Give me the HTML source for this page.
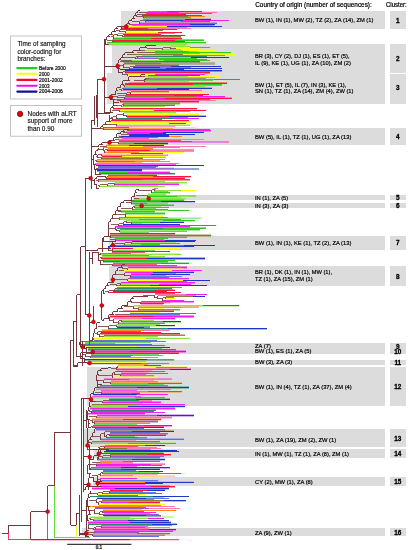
<!DOCTYPE html><html><head><meta charset="utf-8"><style>
html,body{margin:0;padding:0;background:#fff;}
body{width:409px;height:550px;position:relative;overflow:hidden;font-family:"Liberation Sans",sans-serif;color:#1a1a1a;}
.b{position:absolute;background:#dcdcdc;}
.t{position:absolute;white-space:nowrap;transform-origin:0 0;line-height:1;}
svg{position:absolute;left:0;top:0;}
</style></head><body>
<div class="b" style="left:120.6px;top:11.0px;width:264.4px;height:18.0px"></div>
<div class="b" style="left:112.0px;top:44.4px;width:273.0px;height:29.0px"></div>
<div class="b" style="left:106.8px;top:73.4px;width:278.2px;height:31.0px"></div>
<div class="b" style="left:118.0px;top:128.4px;width:267.0px;height:16.8px"></div>
<div class="b" style="left:133.0px;top:195.0px;width:252.0px;height:5.4px"></div>
<div class="b" style="left:133.0px;top:202.6px;width:252.0px;height:5.8px"></div>
<div class="b" style="left:108.6px;top:235.6px;width:276.4px;height:14.4px"></div>
<div class="b" style="left:109.0px;top:265.6px;width:276.0px;height:20.8px"></div>
<div class="b" style="left:88.0px;top:343.0px;width:297.0px;height:11.4px"></div>
<div class="b" style="left:88.0px;top:359.6px;width:297.0px;height:5.4px"></div>
<div class="b" style="left:87.0px;top:367.4px;width:298.0px;height:38.2px"></div>
<div class="b" style="left:82.6px;top:429.0px;width:302.4px;height:18.4px"></div>
<div class="b" style="left:94.0px;top:448.8px;width:291.0px;height:8.8px"></div>
<div class="b" style="left:92.6px;top:477.0px;width:292.4px;height:9.0px"></div>
<div class="b" style="left:82.0px;top:527.6px;width:303.0px;height:8.8px"></div>
<div class="b" style="left:389.6px;top:11.0px;width:16.5px;height:18.0px"></div>
<div class="b" style="left:389.6px;top:44.4px;width:16.5px;height:28.6px"></div>
<div class="b" style="left:389.6px;top:73.8px;width:16.5px;height:30.6px"></div>
<div class="b" style="left:389.6px;top:128.4px;width:16.5px;height:16.8px"></div>
<div class="b" style="left:389.6px;top:195.0px;width:16.5px;height:5.4px"></div>
<div class="b" style="left:389.6px;top:202.6px;width:16.5px;height:5.8px"></div>
<div class="b" style="left:389.6px;top:235.6px;width:16.5px;height:14.4px"></div>
<div class="b" style="left:389.6px;top:265.6px;width:16.5px;height:20.8px"></div>
<div class="b" style="left:389.6px;top:343.0px;width:16.5px;height:11.4px"></div>
<div class="b" style="left:389.6px;top:359.6px;width:16.5px;height:5.4px"></div>
<div class="b" style="left:389.6px;top:367.4px;width:16.5px;height:38.2px"></div>
<div class="b" style="left:389.6px;top:429.0px;width:16.5px;height:18.4px"></div>
<div class="b" style="left:389.6px;top:448.8px;width:16.5px;height:8.8px"></div>
<div class="b" style="left:389.6px;top:477.0px;width:16.5px;height:9.0px"></div>
<div class="b" style="left:389.6px;top:527.6px;width:16.5px;height:8.8px"></div>
<svg width="409" height="550" viewBox="0 0 409 550" style="filter:blur(0.3px)"><g stroke-width="1" shape-rendering="crispEdges"><line x1="144.0" y1="18.5" x2="190.7" y2="18.5" stroke="#2fcc1c" stroke-opacity="0.45"/><line x1="143.0" y1="18.5" x2="211.0" y2="18.5" stroke="#a08888" stroke-opacity="0.45"/><line x1="145.0" y1="22.5" x2="210.4" y2="22.5" stroke="#ff8a10" stroke-opacity="0.45"/><line x1="140.0" y1="22.5" x2="217.0" y2="22.5" stroke="#9a5ad8" stroke-opacity="0.45"/><line x1="131.8" y1="25.5" x2="213.8" y2="25.5" stroke="#f81cf0" stroke-opacity="0.70"/><line x1="121.7" y1="27.5" x2="186.9" y2="27.5" stroke="#2fcc1c" stroke-opacity="0.70"/><line x1="126.0" y1="31.5" x2="155.4" y2="31.5" stroke="#ffff10" stroke-opacity="0.70"/><line x1="123.9" y1="37.5" x2="181.0" y2="37.5" stroke="#8c7a34" stroke-opacity="0.45"/><line x1="113.3" y1="37.5" x2="182.0" y2="37.5" stroke="#2fcc1c" stroke-opacity="0.45"/><line x1="113.3" y1="39.5" x2="182.0" y2="39.5" stroke="#2fcc1c" stroke-opacity="0.45"/><line x1="112.4" y1="39.5" x2="203.6" y2="39.5" stroke="#ff1444" stroke-opacity="0.45"/><line x1="106.8" y1="43.5" x2="206.0" y2="43.5" stroke="#2fcc1c" stroke-opacity="0.45"/><line x1="108.7" y1="43.5" x2="187.0" y2="43.5" stroke="#8fe24a" stroke-opacity="0.45"/><line x1="108.7" y1="45.5" x2="187.0" y2="45.5" stroke="#8fe24a" stroke-opacity="0.45"/><line x1="170.5" y1="45.5" x2="190.0" y2="45.5" stroke="#8fe24a" stroke-opacity="0.45"/><line x1="154.8" y1="53.5" x2="199.7" y2="53.5" stroke="#2fcc1c" stroke-opacity="0.70"/><line x1="123.0" y1="62.5" x2="200.0" y2="62.5" stroke="#2a8a70" stroke-opacity="0.45"/><line x1="123.9" y1="62.5" x2="215.0" y2="62.5" stroke="#8c7a34" stroke-opacity="0.45"/><line x1="123.9" y1="64.5" x2="215.0" y2="64.5" stroke="#8c7a34" stroke-opacity="0.45"/><line x1="134.5" y1="64.5" x2="179.4" y2="64.5" stroke="#8c7a34" stroke-opacity="0.45"/><line x1="125.3" y1="71.5" x2="222.0" y2="71.5" stroke="#2234cc" stroke-opacity="0.45"/><line x1="125.3" y1="71.5" x2="210.0" y2="71.5" stroke="#ff1444" stroke-opacity="0.45"/><line x1="125.3" y1="73.5" x2="210.0" y2="73.5" stroke="#ff1444" stroke-opacity="0.45"/><line x1="127.3" y1="73.5" x2="205.0" y2="73.5" stroke="#ffff10" stroke-opacity="0.45"/><line x1="145.0" y1="80.5" x2="212.8" y2="80.5" stroke="#2fcc1c" stroke-opacity="0.70"/><line x1="144.2" y1="82.5" x2="225.0" y2="82.5" stroke="#8fe24a" stroke-opacity="0.45"/><line x1="128.9" y1="82.5" x2="227.0" y2="82.5" stroke="#ff1444" stroke-opacity="0.45"/><line x1="124.6" y1="85.5" x2="222.0" y2="85.5" stroke="#ff1444" stroke-opacity="0.45"/><line x1="124.6" y1="85.5" x2="205.0" y2="85.5" stroke="#8fe24a" stroke-opacity="0.45"/><line x1="124.6" y1="87.5" x2="205.0" y2="87.5" stroke="#8fe24a" stroke-opacity="0.45"/><line x1="123.1" y1="87.5" x2="212.0" y2="87.5" stroke="#5a7ee6" stroke-opacity="0.45"/><line x1="130.6" y1="92.5" x2="169.3" y2="92.5" stroke="#8c7a34" stroke-opacity="0.45"/><line x1="130.6" y1="92.5" x2="203.6" y2="92.5" stroke="#ffff10" stroke-opacity="0.45"/><line x1="124.8" y1="97.5" x2="225.0" y2="97.5" stroke="#8c7a34" stroke-opacity="0.45"/><line x1="124.8" y1="97.5" x2="232.0" y2="97.5" stroke="#f81cf0" stroke-opacity="0.45"/><line x1="120.1" y1="102.5" x2="198.6" y2="102.5" stroke="#ff1444" stroke-opacity="0.45"/><line x1="123.4" y1="102.5" x2="180.0" y2="102.5" stroke="#2fcc1c" stroke-opacity="0.45"/><line x1="123.4" y1="104.5" x2="180.0" y2="104.5" stroke="#2fcc1c" stroke-opacity="0.45"/><line x1="123.4" y1="104.5" x2="175.0" y2="104.5" stroke="#8c7a34" stroke-opacity="0.45"/><line x1="121.5" y1="107.5" x2="153.9" y2="107.5" stroke="#ffff10" stroke-opacity="0.70"/><line x1="112.5" y1="109.5" x2="197.0" y2="109.5" stroke="#ff1444" stroke-opacity="0.45"/><line x1="119.1" y1="109.5" x2="206.0" y2="109.5" stroke="#ffff10" stroke-opacity="0.45"/><line x1="124.0" y1="113.5" x2="175.5" y2="113.5" stroke="#8fe24a" stroke-opacity="0.45"/><line x1="126.9" y1="113.5" x2="198.6" y2="113.5" stroke="#ffff10" stroke-opacity="0.45"/><line x1="126.9" y1="115.5" x2="198.6" y2="115.5" stroke="#ffff10" stroke-opacity="0.45"/><line x1="126.9" y1="115.5" x2="206.0" y2="115.5" stroke="#ff1444" stroke-opacity="0.45"/><line x1="126.9" y1="117.5" x2="187.8" y2="117.5" stroke="#ff1444" stroke-opacity="0.70"/><line x1="110.5" y1="121.5" x2="188.6" y2="121.5" stroke="#ff1444" stroke-opacity="0.45"/><line x1="108.6" y1="121.5" x2="191.0" y2="121.5" stroke="#ffff10" stroke-opacity="0.45"/><line x1="116.4" y1="124.5" x2="186.0" y2="124.5" stroke="#ffff10" stroke-opacity="0.45"/><line x1="116.4" y1="124.5" x2="190.0" y2="124.5" stroke="#8fe24a" stroke-opacity="0.45"/><line x1="116.4" y1="126.5" x2="175.3" y2="126.5" stroke="#ff78b0" stroke-opacity="0.70"/><line x1="103.3" y1="128.5" x2="173.1" y2="128.5" stroke="#ff8a10" stroke-opacity="0.70"/><line x1="130.1" y1="131.5" x2="211.0" y2="131.5" stroke="#f81cf0" stroke-opacity="0.45"/><line x1="126.2" y1="131.5" x2="203.6" y2="131.5" stroke="#f81cf0" stroke-opacity="0.45"/><line x1="122.2" y1="138.5" x2="149.4" y2="138.5" stroke="#f81cf0" stroke-opacity="0.70"/><line x1="118.5" y1="140.5" x2="181.1" y2="140.5" stroke="#ff1444" stroke-opacity="0.70"/><line x1="118.5" y1="142.5" x2="228.6" y2="142.5" stroke="#f81cf0" stroke-opacity="0.45"/><line x1="118.5" y1="142.5" x2="167.5" y2="142.5" stroke="#2fcc1c" stroke-opacity="0.45"/><line x1="118.5" y1="144.5" x2="167.5" y2="144.5" stroke="#2fcc1c" stroke-opacity="0.45"/><line x1="106.4" y1="144.5" x2="163.7" y2="144.5" stroke="#ff8a10" stroke-opacity="0.45"/><line x1="107.5" y1="149.5" x2="152.8" y2="149.5" stroke="#ff8a10" stroke-opacity="0.45"/><line x1="107.5" y1="149.5" x2="193.6" y2="149.5" stroke="#ff1444" stroke-opacity="0.45"/><line x1="107.5" y1="151.5" x2="193.6" y2="151.5" stroke="#ff1444" stroke-opacity="0.45"/><line x1="104.7" y1="151.5" x2="183.7" y2="151.5" stroke="#ff8a10" stroke-opacity="0.45"/><line x1="101.9" y1="154.5" x2="162.5" y2="154.5" stroke="#ffff10" stroke-opacity="0.45"/><line x1="101.9" y1="154.5" x2="167.5" y2="154.5" stroke="#ff78b0" stroke-opacity="0.45"/><line x1="101.6" y1="157.5" x2="166.2" y2="157.5" stroke="#ff1444" stroke-opacity="0.45"/><line x1="101.6" y1="157.5" x2="142.8" y2="157.5" stroke="#8c7a34" stroke-opacity="0.45"/><line x1="97.0" y1="160.5" x2="160.1" y2="160.5" stroke="#ff8a10" stroke-opacity="0.70"/><line x1="97.0" y1="162.5" x2="141.8" y2="162.5" stroke="#ff8a10" stroke-opacity="0.70"/><line x1="95.5" y1="164.5" x2="175.5" y2="164.5" stroke="#f81cf0" stroke-opacity="0.70"/><line x1="97.7" y1="166.5" x2="157.9" y2="166.5" stroke="#2234cc" stroke-opacity="0.70"/><line x1="97.7" y1="168.5" x2="173.7" y2="168.5" stroke="#f81cf0" stroke-opacity="0.45"/><line x1="97.7" y1="168.5" x2="198.6" y2="168.5" stroke="#2234cc" stroke-opacity="0.45"/><line x1="96.8" y1="171.5" x2="141.5" y2="171.5" stroke="#2234cc" stroke-opacity="0.45"/><line x1="98.5" y1="171.5" x2="170.0" y2="171.5" stroke="#2fcc1c" stroke-opacity="0.45"/><line x1="99.3" y1="174.5" x2="175.0" y2="174.5" stroke="#2a8a70" stroke-opacity="0.45"/><line x1="107.7" y1="174.5" x2="157.3" y2="174.5" stroke="#8c7a34" stroke-opacity="0.45"/><line x1="107.7" y1="177.5" x2="191.0" y2="177.5" stroke="#ff8a10" stroke-opacity="0.45"/><line x1="106.0" y1="177.5" x2="185.0" y2="177.5" stroke="#ff1444" stroke-opacity="0.45"/><line x1="98.3" y1="180.5" x2="190.0" y2="180.5" stroke="#ff1444" stroke-opacity="0.45"/><line x1="98.3" y1="180.5" x2="164.9" y2="180.5" stroke="#8fe24a" stroke-opacity="0.45"/><line x1="114.9" y1="183.5" x2="187.4" y2="183.5" stroke="#8fe24a" stroke-opacity="0.45"/><line x1="114.9" y1="183.5" x2="178.7" y2="183.5" stroke="#f81cf0" stroke-opacity="0.45"/><line x1="154.2" y1="187.5" x2="158.1" y2="187.5" stroke="#ffff10" stroke-opacity="0.70"/><line x1="154.2" y1="189.5" x2="156.3" y2="189.5" stroke="#2fcc1c" stroke-opacity="0.70"/><line x1="154.2" y1="191.5" x2="168.4" y2="191.5" stroke="#2fcc1c" stroke-opacity="0.70"/><line x1="151.7" y1="193.5" x2="170.0" y2="193.5" stroke="#2fcc1c" stroke-opacity="0.45"/><line x1="147.6" y1="193.5" x2="166.0" y2="193.5" stroke="#8fe24a" stroke-opacity="0.45"/><line x1="147.6" y1="195.5" x2="166.0" y2="195.5" stroke="#8fe24a" stroke-opacity="0.45"/><line x1="147.6" y1="195.5" x2="196.0" y2="195.5" stroke="#2fcc1c" stroke-opacity="0.45"/><line x1="147.6" y1="197.5" x2="181.4" y2="197.5" stroke="#8fe24a" stroke-opacity="0.70"/><line x1="138.6" y1="199.5" x2="186.0" y2="199.5" stroke="#8fe24a" stroke-opacity="0.45"/><line x1="133.8" y1="199.5" x2="183.7" y2="199.5" stroke="#2fcc1c" stroke-opacity="0.45"/><line x1="131.4" y1="202.5" x2="195.0" y2="202.5" stroke="#9a5ad8" stroke-opacity="0.45"/><line x1="131.4" y1="202.5" x2="167.5" y2="202.5" stroke="#2fcc1c" stroke-opacity="0.45"/><line x1="131.4" y1="204.5" x2="167.5" y2="204.5" stroke="#2fcc1c" stroke-opacity="0.45"/><line x1="134.6" y1="204.5" x2="173.7" y2="204.5" stroke="#2fcc1c" stroke-opacity="0.45"/><line x1="134.6" y1="206.5" x2="160.9" y2="206.5" stroke="#8fe24a" stroke-opacity="0.70"/><line x1="134.6" y1="208.5" x2="155.6" y2="208.5" stroke="#2fcc1c" stroke-opacity="0.70"/><line x1="121.0" y1="212.5" x2="154.6" y2="212.5" stroke="#2fcc1c" stroke-opacity="0.45"/><line x1="125.4" y1="212.5" x2="165.0" y2="212.5" stroke="#2fcc1c" stroke-opacity="0.45"/><line x1="125.4" y1="214.5" x2="165.0" y2="214.5" stroke="#2fcc1c" stroke-opacity="0.45"/><line x1="125.4" y1="215.5" x2="162.5" y2="215.5" stroke="#ffff10" stroke-opacity="0.45"/><line x1="119.2" y1="218.5" x2="201.0" y2="218.5" stroke="#2fcc1c" stroke-opacity="0.45"/><line x1="119.2" y1="218.5" x2="180.5" y2="218.5" stroke="#8fe24a" stroke-opacity="0.45"/><line x1="126.3" y1="221.5" x2="195.0" y2="221.5" stroke="#8fe24a" stroke-opacity="0.45"/><line x1="131.4" y1="221.5" x2="183.7" y2="221.5" stroke="#2fcc1c" stroke-opacity="0.45"/><line x1="115.3" y1="227.5" x2="189.7" y2="227.5" stroke="#f81cf0" stroke-opacity="0.45"/><line x1="117.0" y1="227.5" x2="206.0" y2="227.5" stroke="#2a8a70" stroke-opacity="0.45"/><line x1="119.9" y1="230.5" x2="200.0" y2="230.5" stroke="#2fcc1c" stroke-opacity="0.45"/><line x1="119.9" y1="230.5" x2="187.4" y2="230.5" stroke="#8fe24a" stroke-opacity="0.45"/><line x1="119.9" y1="232.5" x2="149.0" y2="232.5" stroke="#2fcc1c" stroke-opacity="0.70"/><line x1="109.5" y1="234.5" x2="175.0" y2="234.5" stroke="#ff1444" stroke-opacity="0.45"/><line x1="110.4" y1="234.5" x2="211.0" y2="234.5" stroke="#8c7a34" stroke-opacity="0.45"/><line x1="110.4" y1="236.5" x2="211.0" y2="236.5" stroke="#8c7a34" stroke-opacity="0.45"/><line x1="110.4" y1="236.5" x2="187.4" y2="236.5" stroke="#a08888" stroke-opacity="0.45"/><line x1="115.3" y1="239.5" x2="163.6" y2="239.5" stroke="#f81cf0" stroke-opacity="0.70"/><line x1="131.8" y1="242.5" x2="176.1" y2="242.5" stroke="#8fe24a" stroke-opacity="0.70"/><line x1="112.2" y1="247.5" x2="159.0" y2="247.5" stroke="#ffff10" stroke-opacity="0.70"/><line x1="112.2" y1="249.5" x2="168.8" y2="249.5" stroke="#ffff10" stroke-opacity="0.70"/><line x1="112.2" y1="250.5" x2="155.2" y2="250.5" stroke="#2fcc1c" stroke-opacity="0.70"/><line x1="112.2" y1="252.5" x2="144.8" y2="252.5" stroke="#ff1444" stroke-opacity="0.70"/><line x1="101.9" y1="255.5" x2="148.5" y2="255.5" stroke="#ff1444" stroke-opacity="0.70"/><line x1="101.9" y1="257.5" x2="165.0" y2="257.5" stroke="#8fe24a" stroke-opacity="0.45"/><line x1="101.9" y1="257.5" x2="204.9" y2="257.5" stroke="#ff1444" stroke-opacity="0.45"/><line x1="101.9" y1="259.5" x2="204.9" y2="259.5" stroke="#ff1444" stroke-opacity="0.45"/><line x1="103.1" y1="259.5" x2="175.0" y2="259.5" stroke="#2fcc1c" stroke-opacity="0.45"/><line x1="103.1" y1="262.5" x2="167.5" y2="262.5" stroke="#2a8a70" stroke-opacity="0.45"/><line x1="112.8" y1="262.5" x2="188.7" y2="262.5" stroke="#2fcc1c" stroke-opacity="0.45"/><line x1="112.8" y1="264.5" x2="157.3" y2="264.5" stroke="#ff1444" stroke-opacity="0.70"/><line x1="112.8" y1="266.5" x2="177.4" y2="266.5" stroke="#9a5ad8" stroke-opacity="0.45"/><line x1="127.6" y1="266.5" x2="187.4" y2="266.5" stroke="#f81cf0" stroke-opacity="0.45"/><line x1="127.6" y1="268.5" x2="187.4" y2="268.5" stroke="#f81cf0" stroke-opacity="0.45"/><line x1="127.6" y1="268.5" x2="184.0" y2="268.5" stroke="#ffff10" stroke-opacity="0.45"/><line x1="123.2" y1="271.5" x2="202.4" y2="271.5" stroke="#ffff10" stroke-opacity="0.45"/><line x1="124.9" y1="271.5" x2="193.6" y2="271.5" stroke="#f81cf0" stroke-opacity="0.45"/><line x1="130.7" y1="273.5" x2="175.7" y2="273.5" stroke="#f81cf0" stroke-opacity="0.70"/><line x1="130.7" y1="275.5" x2="166.1" y2="275.5" stroke="#f81cf0" stroke-opacity="0.70"/><line x1="129.7" y1="279.5" x2="188.7" y2="279.5" stroke="#9a5ad8" stroke-opacity="0.45"/><line x1="127.8" y1="279.5" x2="209.9" y2="279.5" stroke="#ffff10" stroke-opacity="0.45"/><line x1="127.8" y1="281.5" x2="186.5" y2="281.5" stroke="#ff1444" stroke-opacity="0.70"/><line x1="120.8" y1="283.5" x2="195.0" y2="283.5" stroke="#f81cf0" stroke-opacity="0.45"/><line x1="120.8" y1="283.5" x2="190.6" y2="283.5" stroke="#8fe24a" stroke-opacity="0.45"/><line x1="117.0" y1="286.5" x2="174.0" y2="286.5" stroke="#ffff10" stroke-opacity="0.70"/><line x1="117.0" y1="289.5" x2="172.4" y2="289.5" stroke="#2a8a70" stroke-opacity="0.45"/><line x1="114.4" y1="289.5" x2="175.0" y2="289.5" stroke="#2a8a70" stroke-opacity="0.45"/><line x1="154.8" y1="293.5" x2="175.4" y2="293.5" stroke="#2234cc" stroke-opacity="0.70"/><line x1="166.0" y1="297.5" x2="174.0" y2="297.5" stroke="#ff1444" stroke-opacity="0.70"/><line x1="166.0" y1="299.5" x2="171.7" y2="299.5" stroke="#ffff10" stroke-opacity="0.70"/><line x1="140.9" y1="302.5" x2="193.6" y2="302.5" stroke="#f81cf0" stroke-opacity="0.45"/><line x1="140.9" y1="302.5" x2="170.0" y2="302.5" stroke="#ff1444" stroke-opacity="0.45"/><line x1="140.9" y1="304.5" x2="162.6" y2="304.5" stroke="#ff78b0" stroke-opacity="0.70"/><line x1="134.0" y1="306.5" x2="238.5" y2="306.5" stroke="#8fe24a" stroke-opacity="0.45"/><line x1="138.1" y1="306.5" x2="198.6" y2="306.5" stroke="#ff8a10" stroke-opacity="0.45"/><line x1="138.1" y1="308.5" x2="163.7" y2="308.5" stroke="#ffff10" stroke-opacity="0.70"/><line x1="138.1" y1="310.5" x2="180.0" y2="310.5" stroke="#2fcc1c" stroke-opacity="0.45"/><line x1="122.7" y1="310.5" x2="173.7" y2="310.5" stroke="#ff1444" stroke-opacity="0.45"/><line x1="129.6" y1="312.5" x2="159.4" y2="312.5" stroke="#ffff10" stroke-opacity="0.70"/><line x1="129.6" y1="315.5" x2="180.0" y2="315.5" stroke="#5a7ee6" stroke-opacity="0.45"/><line x1="109.7" y1="315.5" x2="193.6" y2="315.5" stroke="#ff1444" stroke-opacity="0.45"/><line x1="109.7" y1="317.5" x2="193.6" y2="317.5" stroke="#ff1444" stroke-opacity="0.45"/><line x1="114.0" y1="317.5" x2="175.0" y2="317.5" stroke="#ff78b0" stroke-opacity="0.45"/><line x1="114.0" y1="319.5" x2="175.0" y2="319.5" stroke="#ff78b0" stroke-opacity="0.45"/><line x1="121.5" y1="319.5" x2="154.4" y2="319.5" stroke="#8fe24a" stroke-opacity="0.45"/><line x1="121.5" y1="322.5" x2="181.2" y2="322.5" stroke="#2fcc1c" stroke-opacity="0.45"/><line x1="118.8" y1="322.5" x2="165.0" y2="322.5" stroke="#a08888" stroke-opacity="0.45"/><line x1="117.9" y1="326.5" x2="175.0" y2="326.5" stroke="#8fe24a" stroke-opacity="0.45"/><line x1="117.9" y1="326.5" x2="150.2" y2="326.5" stroke="#2234cc" stroke-opacity="0.45"/><line x1="108.3" y1="329.5" x2="267.0" y2="329.5" stroke="#2a8a70" stroke-opacity="0.45"/><line x1="101.6" y1="329.5" x2="170.0" y2="329.5" stroke="#ff8a10" stroke-opacity="0.45"/><line x1="101.6" y1="331.5" x2="140.6" y2="331.5" stroke="#2234cc" stroke-opacity="0.70"/><line x1="99.5" y1="334.5" x2="180.0" y2="334.5" stroke="#ff1444" stroke-opacity="0.45"/><line x1="103.8" y1="334.5" x2="185.0" y2="334.5" stroke="#8c7a34" stroke-opacity="0.45"/><line x1="103.8" y1="337.5" x2="157.8" y2="337.5" stroke="#8fe24a" stroke-opacity="0.45"/><line x1="93.9" y1="337.5" x2="190.0" y2="337.5" stroke="#ffff10" stroke-opacity="0.45"/><line x1="93.9" y1="340.5" x2="157.1" y2="340.5" stroke="#2234cc" stroke-opacity="0.70"/><line x1="84.5" y1="342.5" x2="150.7" y2="342.5" stroke="#2fcc1c" stroke-opacity="0.70"/><line x1="84.5" y1="344.5" x2="152.1" y2="344.5" stroke="#2234cc" stroke-opacity="0.70"/><line x1="85.6" y1="346.5" x2="138.1" y2="346.5" stroke="#ffff10" stroke-opacity="0.70"/><line x1="88.2" y1="348.5" x2="162.4" y2="348.5" stroke="#2fcc1c" stroke-opacity="0.70"/><line x1="88.2" y1="350.5" x2="176.2" y2="350.5" stroke="#2a8a70" stroke-opacity="0.45"/><line x1="91.5" y1="350.5" x2="186.2" y2="350.5" stroke="#f81cf0" stroke-opacity="0.45"/><line x1="91.5" y1="352.5" x2="186.2" y2="352.5" stroke="#f81cf0" stroke-opacity="0.45"/><line x1="85.8" y1="352.5" x2="178.7" y2="352.5" stroke="#ff1444" stroke-opacity="0.45"/><line x1="90.7" y1="354.5" x2="158.8" y2="354.5" stroke="#2fcc1c" stroke-opacity="0.70"/><line x1="90.7" y1="356.5" x2="131.3" y2="356.5" stroke="#2234cc" stroke-opacity="0.70"/><line x1="90.7" y1="358.5" x2="142.2" y2="358.5" stroke="#ffff10" stroke-opacity="0.70"/><line x1="85.3" y1="360.5" x2="173.7" y2="360.5" stroke="#2234cc" stroke-opacity="0.45"/><line x1="88.0" y1="360.5" x2="175.0" y2="360.5" stroke="#8fe24a" stroke-opacity="0.45"/><line x1="88.0" y1="362.5" x2="147.1" y2="362.5" stroke="#ffff10" stroke-opacity="0.70"/><line x1="117.9" y1="364.5" x2="147.9" y2="364.5" stroke="#ff8a10" stroke-opacity="0.70"/><line x1="117.9" y1="366.5" x2="161.2" y2="366.5" stroke="#8fe24a" stroke-opacity="0.45"/><line x1="117.9" y1="366.5" x2="187.4" y2="366.5" stroke="#ffff10" stroke-opacity="0.45"/><line x1="117.9" y1="368.5" x2="187.4" y2="368.5" stroke="#ffff10" stroke-opacity="0.45"/><line x1="116.6" y1="368.5" x2="191.0" y2="368.5" stroke="#f81cf0" stroke-opacity="0.45"/><line x1="116.6" y1="370.5" x2="152.3" y2="370.5" stroke="#ff78b0" stroke-opacity="0.70"/><line x1="120.7" y1="372.5" x2="148.8" y2="372.5" stroke="#ff78b0" stroke-opacity="0.70"/><line x1="120.7" y1="374.5" x2="145.8" y2="374.5" stroke="#f81cf0" stroke-opacity="0.70"/><line x1="120.7" y1="376.5" x2="153.7" y2="376.5" stroke="#a08888" stroke-opacity="0.45"/><line x1="112.4" y1="376.5" x2="157.5" y2="376.5" stroke="#ffff10" stroke-opacity="0.45"/><line x1="112.4" y1="378.5" x2="157.5" y2="378.5" stroke="#ffff10" stroke-opacity="0.45"/><line x1="103.5" y1="378.5" x2="172.4" y2="378.5" stroke="#f81cf0" stroke-opacity="0.45"/><line x1="110.6" y1="380.5" x2="154.0" y2="380.5" stroke="#ff78b0" stroke-opacity="0.70"/><line x1="110.6" y1="382.5" x2="157.5" y2="382.5" stroke="#ff8a10" stroke-opacity="0.45"/><line x1="110.6" y1="382.5" x2="182.4" y2="382.5" stroke="#ff8a10" stroke-opacity="0.45"/><line x1="110.6" y1="384.5" x2="164.2" y2="384.5" stroke="#2fcc1c" stroke-opacity="0.70"/><line x1="99.8" y1="386.5" x2="167.5" y2="386.5" stroke="#f81cf0" stroke-opacity="0.45"/><line x1="97.8" y1="386.5" x2="188.7" y2="386.5" stroke="#2a8a70" stroke-opacity="0.45"/><line x1="97.8" y1="388.5" x2="188.7" y2="388.5" stroke="#2a8a70" stroke-opacity="0.45"/><line x1="95.8" y1="388.5" x2="171.2" y2="388.5" stroke="#ff78b0" stroke-opacity="0.45"/><line x1="101.1" y1="390.5" x2="136.8" y2="390.5" stroke="#f81cf0" stroke-opacity="0.70"/><line x1="101.1" y1="392.5" x2="182.4" y2="392.5" stroke="#ff8a10" stroke-opacity="0.45"/><line x1="101.1" y1="392.5" x2="139.8" y2="392.5" stroke="#f81cf0" stroke-opacity="0.45"/><line x1="93.3" y1="395.5" x2="136.2" y2="395.5" stroke="#ff78b0" stroke-opacity="0.70"/><line x1="91.9" y1="396.5" x2="140.6" y2="396.5" stroke="#f81cf0" stroke-opacity="0.70"/><line x1="91.9" y1="398.5" x2="165.0" y2="398.5" stroke="#8fe24a" stroke-opacity="0.45"/><line x1="108.8" y1="398.5" x2="170.0" y2="398.5" stroke="#2a8a70" stroke-opacity="0.45"/><line x1="108.8" y1="401.5" x2="152.3" y2="401.5" stroke="#2a8a70" stroke-opacity="0.45"/><line x1="102.5" y1="401.5" x2="161.2" y2="401.5" stroke="#f81cf0" stroke-opacity="0.45"/><line x1="102.5" y1="403.5" x2="142.6" y2="403.5" stroke="#ff78b0" stroke-opacity="0.70"/><line x1="92.2" y1="405.5" x2="185.0" y2="405.5" stroke="#8c7a34" stroke-opacity="0.45"/><line x1="90.2" y1="405.5" x2="185.0" y2="405.5" stroke="#8fe24a" stroke-opacity="0.45"/><line x1="90.2" y1="407.5" x2="185.0" y2="407.5" stroke="#8fe24a" stroke-opacity="0.45"/><line x1="89.7" y1="407.5" x2="175.0" y2="407.5" stroke="#f81cf0" stroke-opacity="0.45"/><line x1="89.7" y1="409.5" x2="175.0" y2="409.5" stroke="#f81cf0" stroke-opacity="0.45"/><line x1="91.9" y1="409.5" x2="156.2" y2="409.5" stroke="#2a8a70" stroke-opacity="0.45"/><line x1="91.9" y1="411.5" x2="153.5" y2="411.5" stroke="#2234cc" stroke-opacity="0.70"/><line x1="88.4" y1="414.5" x2="145.1" y2="414.5" stroke="#f81cf0" stroke-opacity="0.45"/><line x1="96.8" y1="414.5" x2="193.6" y2="414.5" stroke="#9a5ad8" stroke-opacity="0.45"/><line x1="96.8" y1="416.5" x2="193.6" y2="416.5" stroke="#9a5ad8" stroke-opacity="0.45"/><line x1="96.8" y1="416.5" x2="172.4" y2="416.5" stroke="#ff78b0" stroke-opacity="0.45"/><line x1="96.8" y1="418.5" x2="172.4" y2="418.5" stroke="#ff78b0" stroke-opacity="0.45"/><line x1="92.2" y1="418.5" x2="161.2" y2="418.5" stroke="#ff8a10" stroke-opacity="0.45"/><line x1="92.2" y1="420.5" x2="161.2" y2="420.5" stroke="#ff8a10" stroke-opacity="0.45"/><line x1="94.3" y1="420.5" x2="157.5" y2="420.5" stroke="#9a5ad8" stroke-opacity="0.45"/><line x1="94.3" y1="422.5" x2="157.5" y2="422.5" stroke="#9a5ad8" stroke-opacity="0.45"/><line x1="94.3" y1="422.5" x2="150.4" y2="422.5" stroke="#ff8a10" stroke-opacity="0.45"/><line x1="94.3" y1="424.5" x2="136.7" y2="424.5" stroke="#2fcc1c" stroke-opacity="0.70"/><line x1="92.5" y1="426.5" x2="172.4" y2="426.5" stroke="#f81cf0" stroke-opacity="0.45"/><line x1="92.5" y1="426.5" x2="163.7" y2="426.5" stroke="#ff1444" stroke-opacity="0.45"/><line x1="95.5" y1="428.5" x2="143.7" y2="428.5" stroke="#2234cc" stroke-opacity="0.70"/><line x1="95.5" y1="430.5" x2="165.0" y2="430.5" stroke="#9a5ad8" stroke-opacity="0.45"/><line x1="104.9" y1="430.5" x2="173.7" y2="430.5" stroke="#8c7a34" stroke-opacity="0.45"/><line x1="109.5" y1="432.5" x2="159.9" y2="432.5" stroke="#2234cc" stroke-opacity="0.70"/><line x1="109.5" y1="434.5" x2="167.5" y2="434.5" stroke="#5a7ee6" stroke-opacity="0.45"/><line x1="109.5" y1="434.5" x2="166.2" y2="434.5" stroke="#ff1444" stroke-opacity="0.45"/><line x1="109.5" y1="436.5" x2="134.8" y2="436.5" stroke="#2fcc1c" stroke-opacity="0.70"/><line x1="106.9" y1="438.5" x2="146.6" y2="438.5" stroke="#2a8a70" stroke-opacity="0.45"/><line x1="100.6" y1="438.5" x2="183.7" y2="438.5" stroke="#5a7ee6" stroke-opacity="0.45"/><line x1="100.6" y1="440.5" x2="136.4" y2="440.5" stroke="#ff78b0" stroke-opacity="0.70"/><line x1="91.7" y1="442.5" x2="160.0" y2="442.5" stroke="#9a5ad8" stroke-opacity="0.45"/><line x1="91.7" y1="442.5" x2="176.2" y2="442.5" stroke="#8fe24a" stroke-opacity="0.45"/><line x1="104.8" y1="444.5" x2="154.2" y2="444.5" stroke="#ffff10" stroke-opacity="0.70"/><line x1="104.8" y1="446.5" x2="138.0" y2="446.5" stroke="#ff1444" stroke-opacity="0.70"/><line x1="106.0" y1="449.5" x2="150.7" y2="449.5" stroke="#f81cf0" stroke-opacity="0.70"/><line x1="103.6" y1="452.5" x2="163.1" y2="452.5" stroke="#2fcc1c" stroke-opacity="0.70"/><line x1="110.1" y1="455.5" x2="171.2" y2="455.5" stroke="#8c7a34" stroke-opacity="0.45"/><line x1="110.1" y1="455.5" x2="163.7" y2="455.5" stroke="#9a5ad8" stroke-opacity="0.45"/><line x1="102.1" y1="458.5" x2="160.0" y2="458.5" stroke="#2fcc1c" stroke-opacity="0.45"/><line x1="97.0" y1="458.5" x2="165.0" y2="458.5" stroke="#5a7ee6" stroke-opacity="0.45"/><line x1="97.0" y1="460.5" x2="165.0" y2="460.5" stroke="#5a7ee6" stroke-opacity="0.45"/><line x1="99.5" y1="460.5" x2="160.0" y2="460.5" stroke="#ff78b0" stroke-opacity="0.45"/><line x1="99.5" y1="463.5" x2="132.6" y2="463.5" stroke="#ff8a10" stroke-opacity="0.45"/><line x1="96.2" y1="463.5" x2="165.0" y2="463.5" stroke="#f81cf0" stroke-opacity="0.45"/><line x1="96.2" y1="466.5" x2="137.4" y2="466.5" stroke="#f81cf0" stroke-opacity="0.70"/><line x1="90.7" y1="468.5" x2="170.0" y2="468.5" stroke="#9a5ad8" stroke-opacity="0.45"/><line x1="90.7" y1="468.5" x2="160.0" y2="468.5" stroke="#2a8a70" stroke-opacity="0.45"/><line x1="103.0" y1="470.5" x2="135.5" y2="470.5" stroke="#2234cc" stroke-opacity="0.70"/><line x1="103.0" y1="472.5" x2="158.7" y2="472.5" stroke="#2fcc1c" stroke-opacity="0.70"/><line x1="103.0" y1="474.5" x2="158.4" y2="474.5" stroke="#ff78b0" stroke-opacity="0.70"/><line x1="100.3" y1="476.5" x2="175.0" y2="476.5" stroke="#ff78b0" stroke-opacity="0.45"/><line x1="97.5" y1="476.5" x2="165.0" y2="476.5" stroke="#ffff10" stroke-opacity="0.45"/><line x1="100.3" y1="479.5" x2="134.1" y2="479.5" stroke="#ffff10" stroke-opacity="0.70"/><line x1="100.3" y1="481.5" x2="157.5" y2="481.5" stroke="#5a7ee6" stroke-opacity="0.45"/><line x1="99.2" y1="481.5" x2="193.6" y2="481.5" stroke="#ff8a10" stroke-opacity="0.45"/><line x1="100.2" y1="484.5" x2="145.0" y2="484.5" stroke="#f81cf0" stroke-opacity="0.70"/><line x1="101.2" y1="487.5" x2="175.0" y2="487.5" stroke="#f81cf0" stroke-opacity="0.45"/><line x1="92.4" y1="487.5" x2="168.7" y2="487.5" stroke="#f81cf0" stroke-opacity="0.45"/><line x1="92.4" y1="489.5" x2="168.7" y2="489.5" stroke="#f81cf0" stroke-opacity="0.45"/><line x1="109.9" y1="489.5" x2="165.0" y2="489.5" stroke="#ff1444" stroke-opacity="0.45"/><line x1="109.9" y1="491.5" x2="142.5" y2="491.5" stroke="#2234cc" stroke-opacity="0.70"/><line x1="97.9" y1="495.5" x2="137.5" y2="495.5" stroke="#2234cc" stroke-opacity="0.70"/><line x1="96.7" y1="497.5" x2="163.9" y2="497.5" stroke="#ff78b0" stroke-opacity="0.70"/><line x1="101.6" y1="499.5" x2="153.8" y2="499.5" stroke="#ff1444" stroke-opacity="0.70"/><line x1="101.6" y1="501.5" x2="186.2" y2="501.5" stroke="#8c7a34" stroke-opacity="0.45"/><line x1="101.6" y1="501.5" x2="160.0" y2="501.5" stroke="#f81cf0" stroke-opacity="0.45"/><line x1="101.6" y1="503.5" x2="160.0" y2="503.5" stroke="#f81cf0" stroke-opacity="0.45"/><line x1="98.6" y1="503.5" x2="165.0" y2="503.5" stroke="#ffff10" stroke-opacity="0.45"/><line x1="98.6" y1="505.5" x2="161.2" y2="505.5" stroke="#f81cf0" stroke-opacity="0.70"/><line x1="95.0" y1="507.5" x2="145.9" y2="507.5" stroke="#2234cc" stroke-opacity="0.70"/><line x1="102.7" y1="509.5" x2="142.4" y2="509.5" stroke="#ff78b0" stroke-opacity="0.70"/><line x1="102.7" y1="511.5" x2="144.4" y2="511.5" stroke="#2234cc" stroke-opacity="0.70"/><line x1="103.9" y1="513.5" x2="149.9" y2="513.5" stroke="#f81cf0" stroke-opacity="0.70"/><line x1="103.9" y1="516.5" x2="161.2" y2="516.5" stroke="#2234cc" stroke-opacity="0.45"/><line x1="90.1" y1="516.5" x2="173.7" y2="516.5" stroke="#8fe24a" stroke-opacity="0.45"/><line x1="93.9" y1="519.5" x2="133.9" y2="519.5" stroke="#ff78b0" stroke-opacity="0.70"/><line x1="93.9" y1="521.5" x2="168.7" y2="521.5" stroke="#9a5ad8" stroke-opacity="0.45"/><line x1="87.5" y1="521.5" x2="171.2" y2="521.5" stroke="#f81cf0" stroke-opacity="0.45"/><line x1="87.5" y1="523.5" x2="171.2" y2="523.5" stroke="#f81cf0" stroke-opacity="0.45"/><line x1="88.4" y1="523.5" x2="177.4" y2="523.5" stroke="#2a8a70" stroke-opacity="0.45"/><line x1="101.4" y1="526.5" x2="147.8" y2="526.5" stroke="#f81cf0" stroke-opacity="0.70"/><line x1="93.7" y1="530.5" x2="176.2" y2="530.5" stroke="#f81cf0" stroke-opacity="0.45"/><line x1="94.2" y1="530.5" x2="173.0" y2="530.5" stroke="#f81cf0" stroke-opacity="0.45"/><line x1="92.7" y1="534.5" x2="170.0" y2="534.5" stroke="#ff78b0" stroke-opacity="0.45"/><line x1="92.7" y1="534.5" x2="165.0" y2="534.5" stroke="#a08888" stroke-opacity="0.45"/><line x1="92.7" y1="536.5" x2="158.7" y2="536.5" stroke="#2234cc" stroke-opacity="0.70"/></g><g stroke-width="1" shape-rendering="crispEdges"><line x1="147.7" y1="11.5" x2="166.9" y2="11.5" stroke="#2fcc1c"/><line x1="166.9" y1="11.5" x2="202.0" y2="11.5" stroke="#ff1444"/><line x1="147.7" y1="12.5" x2="178.9" y2="12.5" stroke="#f81cf0"/><line x1="178.9" y1="12.5" x2="217.0" y2="12.5" stroke="#ff78b0"/><line x1="145.8" y1="13.5" x2="212.0" y2="13.5" stroke="#f81cf0"/><line x1="145.8" y1="14.5" x2="186.2" y2="14.5" stroke="#ff1444"/><line x1="142.3" y1="15.5" x2="202.0" y2="15.5" stroke="#ff1444"/><line x1="144.0" y1="16.5" x2="188.0" y2="16.5" stroke="#8c7a34"/><line x1="188.0" y1="16.5" x2="205.0" y2="16.5" stroke="#ff8a10"/><line x1="144.0" y1="17.5" x2="190.7" y2="17.5" stroke="#2fcc1c"/><line x1="143.0" y1="19.5" x2="185.1" y2="19.5" stroke="#a08888"/><line x1="185.1" y1="19.5" x2="211.0" y2="19.5" stroke="#2234cc"/><line x1="145.0" y1="20.5" x2="183.3" y2="20.5" stroke="#2234cc"/><line x1="183.3" y1="20.5" x2="228.5" y2="20.5" stroke="#f81cf0"/><line x1="145.0" y1="21.5" x2="181.3" y2="21.5" stroke="#ff8a10"/><line x1="181.3" y1="21.5" x2="210.4" y2="21.5" stroke="#f81cf0"/><line x1="140.0" y1="23.5" x2="217.0" y2="23.5" stroke="#9a5ad8"/><line x1="131.8" y1="24.5" x2="190.4" y2="24.5" stroke="#f81cf0"/><line x1="190.4" y1="24.5" x2="215.0" y2="24.5" stroke="#2234cc"/><line x1="121.7" y1="26.5" x2="166.9" y2="26.5" stroke="#ffff10"/><line x1="166.9" y1="26.5" x2="222.0" y2="26.5" stroke="#2234cc"/><line x1="121.7" y1="28.5" x2="148.3" y2="28.5" stroke="#ff1444"/><line x1="148.3" y1="28.5" x2="191.0" y2="28.5" stroke="#ff78b0"/><line x1="119.9" y1="29.5" x2="177.0" y2="29.5" stroke="#ff1444"/><line x1="126.0" y1="30.5" x2="162.6" y2="30.5" stroke="#8c7a34"/><line x1="126.0" y1="32.5" x2="157.5" y2="32.5" stroke="#ffff10"/><line x1="157.5" y1="32.5" x2="182.0" y2="32.5" stroke="#ff1444"/><line x1="117.6" y1="33.5" x2="175.0" y2="33.5" stroke="#ff78b0"/><line x1="122.5" y1="34.5" x2="161.0" y2="34.5" stroke="#ff1444"/><line x1="123.9" y1="35.5" x2="185.0" y2="35.5" stroke="#ff1444"/><line x1="123.9" y1="36.5" x2="181.0" y2="36.5" stroke="#8c7a34"/><line x1="113.3" y1="38.5" x2="150.6" y2="38.5" stroke="#2fcc1c"/><line x1="150.6" y1="38.5" x2="182.0" y2="38.5" stroke="#ff1444"/><line x1="112.4" y1="40.5" x2="174.9" y2="40.5" stroke="#ff1444"/><line x1="174.9" y1="40.5" x2="203.6" y2="40.5" stroke="#2fcc1c"/><line x1="112.4" y1="41.5" x2="184.7" y2="41.5" stroke="#2a8a70"/><line x1="106.8" y1="42.5" x2="206.0" y2="42.5" stroke="#2fcc1c"/><line x1="108.7" y1="44.5" x2="187.0" y2="44.5" stroke="#8fe24a"/><line x1="170.5" y1="46.5" x2="190.0" y2="46.5" stroke="#8fe24a"/><line x1="175.9" y1="47.5" x2="189.7" y2="47.5" stroke="#ffff10"/><line x1="189.7" y1="47.5" x2="210.0" y2="47.5" stroke="#2fcc1c"/><line x1="175.9" y1="48.5" x2="200.0" y2="48.5" stroke="#ffff10"/><line x1="162.9" y1="49.5" x2="180.8" y2="49.5" stroke="#8fe24a"/><line x1="144.2" y1="50.5" x2="183.3" y2="50.5" stroke="#8fe24a"/><line x1="183.3" y1="50.5" x2="215.0" y2="50.5" stroke="#ffff10"/><line x1="154.8" y1="51.5" x2="189.1" y2="51.5" stroke="#2fcc1c"/><line x1="189.1" y1="51.5" x2="197.9" y2="51.5" stroke="#8fe24a"/><line x1="154.8" y1="52.5" x2="231.0" y2="52.5" stroke="#2fcc1c"/><line x1="135.1" y1="54.5" x2="182.5" y2="54.5" stroke="#8c7a34"/><line x1="182.5" y1="54.5" x2="235.0" y2="54.5" stroke="#ffff10"/><line x1="142.1" y1="55.5" x2="173.3" y2="55.5" stroke="#8fe24a"/><line x1="173.3" y1="55.5" x2="225.0" y2="55.5" stroke="#2fcc1c"/><line x1="142.1" y1="56.5" x2="206.8" y2="56.5" stroke="#2a8a70"/><line x1="137.1" y1="57.5" x2="190.8" y2="57.5" stroke="#8fe24a"/><line x1="190.8" y1="57.5" x2="228.5" y2="57.5" stroke="#2234cc"/><line x1="135.5" y1="58.5" x2="158.0" y2="58.5" stroke="#9a5ad8"/><line x1="158.0" y1="58.5" x2="196.6" y2="58.5" stroke="#2fcc1c"/><line x1="131.2" y1="59.5" x2="159.2" y2="59.5" stroke="#ffff10"/><line x1="159.2" y1="59.5" x2="207.0" y2="59.5" stroke="#2fcc1c"/><line x1="131.2" y1="60.5" x2="164.1" y2="60.5" stroke="#8fe24a"/><line x1="164.1" y1="60.5" x2="210.0" y2="60.5" stroke="#2fcc1c"/><line x1="123.0" y1="61.5" x2="200.0" y2="61.5" stroke="#2a8a70"/><line x1="123.9" y1="63.5" x2="161.4" y2="63.5" stroke="#8c7a34"/><line x1="161.4" y1="63.5" x2="215.0" y2="63.5" stroke="#ff78b0"/><line x1="134.5" y1="65.5" x2="179.4" y2="65.5" stroke="#8c7a34"/><line x1="134.5" y1="66.5" x2="171.1" y2="66.5" stroke="#9a5ad8"/><line x1="171.1" y1="66.5" x2="221.0" y2="66.5" stroke="#2234cc"/><line x1="133.3" y1="67.5" x2="160.4" y2="67.5" stroke="#2234cc"/><line x1="160.4" y1="67.5" x2="190.9" y2="67.5" stroke="#2fcc1c"/><line x1="129.9" y1="68.5" x2="165.6" y2="68.5" stroke="#5a7ee6"/><line x1="165.6" y1="68.5" x2="222.0" y2="68.5" stroke="#2234cc"/><line x1="119.8" y1="69.5" x2="184.4" y2="69.5" stroke="#2234cc"/><line x1="125.3" y1="70.5" x2="222.0" y2="70.5" stroke="#2234cc"/><line x1="125.3" y1="72.5" x2="210.0" y2="72.5" stroke="#ff1444"/><line x1="127.3" y1="74.5" x2="155.1" y2="74.5" stroke="#ffff10"/><line x1="155.1" y1="74.5" x2="205.0" y2="74.5" stroke="#f81cf0"/><line x1="127.3" y1="75.5" x2="148.1" y2="75.5" stroke="#ffff10"/><line x1="148.1" y1="75.5" x2="200.0" y2="75.5" stroke="#ff1444"/><line x1="144.1" y1="76.5" x2="188.2" y2="76.5" stroke="#8fe24a"/><line x1="188.2" y1="76.5" x2="220.0" y2="76.5" stroke="#ffff10"/><line x1="148.3" y1="77.5" x2="215.0" y2="77.5" stroke="#8fe24a"/><line x1="148.3" y1="78.5" x2="205.8" y2="78.5" stroke="#a08888"/><line x1="145.0" y1="79.5" x2="213.9" y2="79.5" stroke="#2fcc1c"/><line x1="213.9" y1="79.5" x2="240.0" y2="79.5" stroke="#f81cf0"/><line x1="144.2" y1="81.5" x2="188.6" y2="81.5" stroke="#8fe24a"/><line x1="188.6" y1="81.5" x2="225.0" y2="81.5" stroke="#ffff10"/><line x1="128.9" y1="83.5" x2="227.0" y2="83.5" stroke="#ff1444"/><line x1="124.6" y1="84.5" x2="193.3" y2="84.5" stroke="#ff1444"/><line x1="193.3" y1="84.5" x2="222.0" y2="84.5" stroke="#2fcc1c"/><line x1="124.6" y1="86.5" x2="205.0" y2="86.5" stroke="#8fe24a"/><line x1="123.1" y1="88.5" x2="156.7" y2="88.5" stroke="#5a7ee6"/><line x1="156.7" y1="88.5" x2="212.0" y2="88.5" stroke="#2234cc"/><line x1="123.1" y1="89.5" x2="188.9" y2="89.5" stroke="#2234cc"/><line x1="121.1" y1="90.5" x2="202.0" y2="90.5" stroke="#ff78b0"/><line x1="130.6" y1="91.5" x2="169.3" y2="91.5" stroke="#8c7a34"/><line x1="130.6" y1="93.5" x2="203.6" y2="93.5" stroke="#ffff10"/><line x1="126.7" y1="94.5" x2="208.6" y2="94.5" stroke="#ff1444"/><line x1="117.8" y1="95.5" x2="173.5" y2="95.5" stroke="#8c7a34"/><line x1="173.5" y1="95.5" x2="203.3" y2="95.5" stroke="#ff1444"/><line x1="124.8" y1="96.5" x2="196.4" y2="96.5" stroke="#8c7a34"/><line x1="196.4" y1="96.5" x2="225.0" y2="96.5" stroke="#f81cf0"/><line x1="124.8" y1="98.5" x2="164.7" y2="98.5" stroke="#f81cf0"/><line x1="164.7" y1="98.5" x2="232.0" y2="98.5" stroke="#ff1444"/><line x1="114.2" y1="99.5" x2="209.7" y2="99.5" stroke="#f81cf0"/><line x1="120.1" y1="100.5" x2="216.0" y2="100.5" stroke="#ff78b0"/><line x1="120.1" y1="101.5" x2="198.6" y2="101.5" stroke="#ff1444"/><line x1="123.4" y1="103.5" x2="180.0" y2="103.5" stroke="#2fcc1c"/><line x1="123.4" y1="105.5" x2="175.0" y2="105.5" stroke="#8c7a34"/><line x1="121.5" y1="106.5" x2="164.8" y2="106.5" stroke="#8fe24a"/><line x1="112.5" y1="108.5" x2="197.0" y2="108.5" stroke="#ff1444"/><line x1="119.1" y1="110.5" x2="153.7" y2="110.5" stroke="#ffff10"/><line x1="153.7" y1="110.5" x2="206.0" y2="110.5" stroke="#ff1444"/><line x1="119.1" y1="111.5" x2="190.0" y2="111.5" stroke="#ff8a10"/><line x1="124.0" y1="112.5" x2="175.5" y2="112.5" stroke="#8fe24a"/><line x1="126.9" y1="114.5" x2="198.6" y2="114.5" stroke="#ffff10"/><line x1="126.9" y1="116.5" x2="169.4" y2="116.5" stroke="#ff1444"/><line x1="169.4" y1="116.5" x2="206.0" y2="116.5" stroke="#2234cc"/><line x1="116.2" y1="118.5" x2="172.6" y2="118.5" stroke="#2a8a70"/><line x1="172.6" y1="118.5" x2="198.6" y2="118.5" stroke="#f81cf0"/><line x1="112.4" y1="119.5" x2="161.9" y2="119.5" stroke="#f81cf0"/><line x1="110.5" y1="120.5" x2="188.6" y2="120.5" stroke="#ff1444"/><line x1="108.6" y1="122.5" x2="191.0" y2="122.5" stroke="#ffff10"/><line x1="116.4" y1="123.5" x2="169.0" y2="123.5" stroke="#ffff10"/><line x1="169.0" y1="123.5" x2="186.0" y2="123.5" stroke="#ff1444"/><line x1="116.4" y1="125.5" x2="190.0" y2="125.5" stroke="#8fe24a"/><line x1="103.3" y1="127.5" x2="128.6" y2="127.5" stroke="#f81cf0"/><line x1="128.6" y1="127.5" x2="195.0" y2="127.5" stroke="#ffff10"/><line x1="103.3" y1="129.5" x2="154.5" y2="129.5" stroke="#9a5ad8"/><line x1="154.5" y1="129.5" x2="210.0" y2="129.5" stroke="#f81cf0"/><line x1="130.1" y1="130.5" x2="211.0" y2="130.5" stroke="#f81cf0"/><line x1="126.2" y1="132.5" x2="163.4" y2="132.5" stroke="#f81cf0"/><line x1="163.4" y1="132.5" x2="203.6" y2="132.5" stroke="#2234cc"/><line x1="127.1" y1="133.5" x2="150.1" y2="133.5" stroke="#9a5ad8"/><line x1="150.1" y1="133.5" x2="166.0" y2="133.5" stroke="#2234cc"/><line x1="130.0" y1="134.5" x2="195.0" y2="134.5" stroke="#2234cc"/><line x1="130.0" y1="135.5" x2="168.9" y2="135.5" stroke="#2234cc"/><line x1="120.2" y1="136.5" x2="168.9" y2="136.5" stroke="#2234cc"/><line x1="168.9" y1="136.5" x2="182.4" y2="136.5" stroke="#ff8a10"/><line x1="122.2" y1="137.5" x2="157.9" y2="137.5" stroke="#5a7ee6"/><line x1="118.4" y1="139.5" x2="148.4" y2="139.5" stroke="#ff8a10"/><line x1="148.4" y1="139.5" x2="203.6" y2="139.5" stroke="#ff78b0"/><line x1="118.5" y1="141.5" x2="191.8" y2="141.5" stroke="#f81cf0"/><line x1="191.8" y1="141.5" x2="228.6" y2="141.5" stroke="#ff78b0"/><line x1="118.5" y1="143.5" x2="133.8" y2="143.5" stroke="#2fcc1c"/><line x1="133.8" y1="143.5" x2="167.5" y2="143.5" stroke="#2234cc"/><line x1="106.4" y1="145.5" x2="129.0" y2="145.5" stroke="#ff8a10"/><line x1="129.0" y1="145.5" x2="163.7" y2="145.5" stroke="#2234cc"/><line x1="106.4" y1="146.5" x2="142.8" y2="146.5" stroke="#ffff10"/><line x1="142.8" y1="146.5" x2="206.0" y2="146.5" stroke="#ff78b0"/><line x1="103.4" y1="147.5" x2="180.0" y2="147.5" stroke="#ff8a10"/><line x1="107.5" y1="148.5" x2="152.8" y2="148.5" stroke="#ff8a10"/><line x1="107.5" y1="150.5" x2="149.6" y2="150.5" stroke="#ff1444"/><line x1="149.6" y1="150.5" x2="193.6" y2="150.5" stroke="#ff78b0"/><line x1="104.7" y1="152.5" x2="138.9" y2="152.5" stroke="#ff8a10"/><line x1="138.9" y1="152.5" x2="183.7" y2="152.5" stroke="#ffff10"/><line x1="101.9" y1="153.5" x2="131.3" y2="153.5" stroke="#ffff10"/><line x1="131.3" y1="153.5" x2="162.5" y2="153.5" stroke="#ff1444"/><line x1="101.9" y1="155.5" x2="167.5" y2="155.5" stroke="#ff78b0"/><line x1="101.6" y1="156.5" x2="121.6" y2="156.5" stroke="#ff1444"/><line x1="121.6" y1="156.5" x2="166.2" y2="156.5" stroke="#ffff10"/><line x1="101.6" y1="158.5" x2="142.8" y2="158.5" stroke="#8c7a34"/><line x1="97.0" y1="159.5" x2="165.0" y2="159.5" stroke="#ff8a10"/><line x1="97.0" y1="161.5" x2="135.2" y2="161.5" stroke="#9a5ad8"/><line x1="135.2" y1="161.5" x2="170.0" y2="161.5" stroke="#ff8a10"/><line x1="95.1" y1="163.5" x2="178.7" y2="163.5" stroke="#ff8a10"/><line x1="95.5" y1="165.5" x2="203.6" y2="165.5" stroke="#2234cc"/><line x1="97.7" y1="167.5" x2="156.1" y2="167.5" stroke="#f81cf0"/><line x1="156.1" y1="167.5" x2="173.7" y2="167.5" stroke="#ffff10"/><line x1="97.7" y1="169.5" x2="141.5" y2="169.5" stroke="#2234cc"/><line x1="141.5" y1="169.5" x2="198.6" y2="169.5" stroke="#ff78b0"/><line x1="96.8" y1="170.5" x2="141.5" y2="170.5" stroke="#2234cc"/><line x1="98.5" y1="172.5" x2="127.7" y2="172.5" stroke="#2fcc1c"/><line x1="127.7" y1="172.5" x2="170.0" y2="172.5" stroke="#f81cf0"/><line x1="99.3" y1="173.5" x2="175.0" y2="173.5" stroke="#2a8a70"/><line x1="107.7" y1="175.5" x2="138.7" y2="175.5" stroke="#8c7a34"/><line x1="138.7" y1="175.5" x2="157.3" y2="175.5" stroke="#ff1444"/><line x1="107.7" y1="176.5" x2="153.2" y2="176.5" stroke="#ff8a10"/><line x1="153.2" y1="176.5" x2="191.0" y2="176.5" stroke="#ff1444"/><line x1="106.0" y1="178.5" x2="154.0" y2="178.5" stroke="#ff1444"/><line x1="154.0" y1="178.5" x2="185.0" y2="178.5" stroke="#ff1444"/><line x1="98.3" y1="179.5" x2="142.0" y2="179.5" stroke="#ff1444"/><line x1="142.0" y1="179.5" x2="190.0" y2="179.5" stroke="#f81cf0"/><line x1="98.3" y1="181.5" x2="164.9" y2="181.5" stroke="#8fe24a"/><line x1="114.9" y1="182.5" x2="187.4" y2="182.5" stroke="#8fe24a"/><line x1="114.9" y1="184.5" x2="178.7" y2="184.5" stroke="#f81cf0"/><line x1="107.4" y1="185.5" x2="157.9" y2="185.5" stroke="#8fe24a"/><line x1="99.7" y1="186.5" x2="165.0" y2="186.5" stroke="#8fe24a"/><line x1="154.2" y1="188.5" x2="158.2" y2="188.5" stroke="#ff78b0"/><line x1="154.2" y1="190.5" x2="180.5" y2="190.5" stroke="#8fe24a"/><line x1="180.5" y1="190.5" x2="196.0" y2="190.5" stroke="#ffff10"/><line x1="151.7" y1="192.5" x2="170.0" y2="192.5" stroke="#2fcc1c"/><line x1="147.6" y1="194.5" x2="166.0" y2="194.5" stroke="#8fe24a"/><line x1="147.6" y1="196.5" x2="177.3" y2="196.5" stroke="#2fcc1c"/><line x1="177.3" y1="196.5" x2="196.0" y2="196.5" stroke="#8fe24a"/><line x1="138.6" y1="198.5" x2="155.9" y2="198.5" stroke="#8fe24a"/><line x1="155.9" y1="198.5" x2="186.0" y2="198.5" stroke="#8fe24a"/><line x1="133.8" y1="200.5" x2="162.2" y2="200.5" stroke="#2fcc1c"/><line x1="162.2" y1="200.5" x2="183.7" y2="200.5" stroke="#2fcc1c"/><line x1="131.4" y1="201.5" x2="160.8" y2="201.5" stroke="#9a5ad8"/><line x1="160.8" y1="201.5" x2="195.0" y2="201.5" stroke="#2234cc"/><line x1="131.4" y1="203.5" x2="147.3" y2="203.5" stroke="#2fcc1c"/><line x1="147.3" y1="203.5" x2="167.5" y2="203.5" stroke="#8fe24a"/><line x1="134.6" y1="205.5" x2="173.7" y2="205.5" stroke="#2fcc1c"/><line x1="134.6" y1="207.5" x2="144.4" y2="207.5" stroke="#2fcc1c"/><line x1="144.4" y1="207.5" x2="168.7" y2="207.5" stroke="#2fcc1c"/><line x1="132.4" y1="209.5" x2="167.5" y2="209.5" stroke="#2fcc1c"/><line x1="120.5" y1="210.5" x2="168.1" y2="210.5" stroke="#8fe24a"/><line x1="168.1" y1="210.5" x2="188.7" y2="210.5" stroke="#2fcc1c"/><line x1="121.0" y1="211.5" x2="154.6" y2="211.5" stroke="#2fcc1c"/><line x1="125.4" y1="213.5" x2="136.9" y2="213.5" stroke="#2fcc1c"/><line x1="136.9" y1="213.5" x2="165.0" y2="213.5" stroke="#2fcc1c"/><line x1="125.4" y1="216.5" x2="162.5" y2="216.5" stroke="#ffff10"/><line x1="119.2" y1="217.5" x2="167.9" y2="217.5" stroke="#2fcc1c"/><line x1="167.9" y1="217.5" x2="201.0" y2="217.5" stroke="#ffff10"/><line x1="119.2" y1="219.5" x2="139.0" y2="219.5" stroke="#8fe24a"/><line x1="139.0" y1="219.5" x2="180.5" y2="219.5" stroke="#2fcc1c"/><line x1="126.3" y1="220.5" x2="162.9" y2="220.5" stroke="#8fe24a"/><line x1="162.9" y1="220.5" x2="195.0" y2="220.5" stroke="#2fcc1c"/><line x1="131.4" y1="222.5" x2="160.0" y2="222.5" stroke="#2fcc1c"/><line x1="160.0" y1="222.5" x2="183.7" y2="222.5" stroke="#2234cc"/><line x1="131.4" y1="223.5" x2="141.8" y2="223.5" stroke="#8fe24a"/><line x1="141.8" y1="223.5" x2="164.3" y2="223.5" stroke="#ffff10"/><line x1="123.5" y1="224.5" x2="180.0" y2="224.5" stroke="#2234cc"/><line x1="118.9" y1="225.5" x2="155.9" y2="225.5" stroke="#9a5ad8"/><line x1="155.9" y1="225.5" x2="216.0" y2="225.5" stroke="#f81cf0"/><line x1="115.3" y1="226.5" x2="189.7" y2="226.5" stroke="#f81cf0"/><line x1="117.0" y1="228.5" x2="162.6" y2="228.5" stroke="#2a8a70"/><line x1="162.6" y1="228.5" x2="206.0" y2="228.5" stroke="#2fcc1c"/><line x1="119.9" y1="229.5" x2="200.0" y2="229.5" stroke="#2fcc1c"/><line x1="119.9" y1="231.5" x2="149.5" y2="231.5" stroke="#8fe24a"/><line x1="149.5" y1="231.5" x2="187.4" y2="231.5" stroke="#ff78b0"/><line x1="109.5" y1="233.5" x2="175.0" y2="233.5" stroke="#ff1444"/><line x1="110.4" y1="235.5" x2="160.4" y2="235.5" stroke="#8c7a34"/><line x1="160.4" y1="235.5" x2="211.0" y2="235.5" stroke="#f81cf0"/><line x1="110.4" y1="237.5" x2="187.4" y2="237.5" stroke="#a08888"/><line x1="115.3" y1="238.5" x2="167.8" y2="238.5" stroke="#2fcc1c"/><line x1="115.3" y1="240.5" x2="164.8" y2="240.5" stroke="#f81cf0"/><line x1="164.8" y1="240.5" x2="196.0" y2="240.5" stroke="#2234cc"/><line x1="131.8" y1="241.5" x2="170.6" y2="241.5" stroke="#2234cc"/><line x1="170.6" y1="241.5" x2="195.0" y2="241.5" stroke="#2234cc"/><line x1="131.8" y1="243.5" x2="180.0" y2="243.5" stroke="#2fcc1c"/><line x1="124.9" y1="244.5" x2="140.8" y2="244.5" stroke="#8fe24a"/><line x1="140.8" y1="244.5" x2="159.9" y2="244.5" stroke="#2fcc1c"/><line x1="113.0" y1="245.5" x2="183.9" y2="245.5" stroke="#9a5ad8"/><line x1="183.9" y1="245.5" x2="214.8" y2="245.5" stroke="#2234cc"/><line x1="108.2" y1="246.5" x2="193.6" y2="246.5" stroke="#2234cc"/><line x1="112.2" y1="248.5" x2="132.9" y2="248.5" stroke="#ff1444"/><line x1="132.9" y1="248.5" x2="180.0" y2="248.5" stroke="#ffff10"/><line x1="112.2" y1="251.5" x2="170.0" y2="251.5" stroke="#ff1444"/><line x1="99.8" y1="253.5" x2="131.2" y2="253.5" stroke="#2fcc1c"/><line x1="131.2" y1="253.5" x2="180.0" y2="253.5" stroke="#ffff10"/><line x1="100.2" y1="254.5" x2="182.4" y2="254.5" stroke="#8fe24a"/><line x1="101.9" y1="256.5" x2="165.0" y2="256.5" stroke="#8fe24a"/><line x1="101.9" y1="258.5" x2="146.6" y2="258.5" stroke="#ff1444"/><line x1="146.6" y1="258.5" x2="204.9" y2="258.5" stroke="#2234cc"/><line x1="103.1" y1="260.5" x2="175.0" y2="260.5" stroke="#2fcc1c"/><line x1="103.1" y1="261.5" x2="120.3" y2="261.5" stroke="#2a8a70"/><line x1="120.3" y1="261.5" x2="167.5" y2="261.5" stroke="#2fcc1c"/><line x1="112.8" y1="263.5" x2="160.6" y2="263.5" stroke="#2fcc1c"/><line x1="160.6" y1="263.5" x2="188.7" y2="263.5" stroke="#f81cf0"/><line x1="112.8" y1="265.5" x2="177.4" y2="265.5" stroke="#9a5ad8"/><line x1="127.6" y1="267.5" x2="187.4" y2="267.5" stroke="#f81cf0"/><line x1="127.6" y1="269.5" x2="184.0" y2="269.5" stroke="#ffff10"/><line x1="123.2" y1="270.5" x2="172.1" y2="270.5" stroke="#ffff10"/><line x1="172.1" y1="270.5" x2="202.4" y2="270.5" stroke="#f81cf0"/><line x1="124.9" y1="272.5" x2="153.2" y2="272.5" stroke="#f81cf0"/><line x1="153.2" y1="272.5" x2="193.6" y2="272.5" stroke="#2234cc"/><line x1="130.7" y1="274.5" x2="151.1" y2="274.5" stroke="#f81cf0"/><line x1="151.1" y1="274.5" x2="190.0" y2="274.5" stroke="#2234cc"/><line x1="130.7" y1="276.5" x2="182.4" y2="276.5" stroke="#5a7ee6"/><line x1="129.7" y1="277.5" x2="168.7" y2="277.5" stroke="#f81cf0"/><line x1="168.7" y1="277.5" x2="193.6" y2="277.5" stroke="#ffff10"/><line x1="129.7" y1="278.5" x2="151.6" y2="278.5" stroke="#9a5ad8"/><line x1="151.6" y1="278.5" x2="188.7" y2="278.5" stroke="#f81cf0"/><line x1="127.8" y1="280.5" x2="182.5" y2="280.5" stroke="#ffff10"/><line x1="182.5" y1="280.5" x2="209.9" y2="280.5" stroke="#2234cc"/><line x1="120.8" y1="282.5" x2="195.0" y2="282.5" stroke="#f81cf0"/><line x1="120.8" y1="284.5" x2="159.0" y2="284.5" stroke="#8fe24a"/><line x1="159.0" y1="284.5" x2="190.6" y2="284.5" stroke="#f81cf0"/><line x1="116.4" y1="285.5" x2="150.4" y2="285.5" stroke="#f81cf0"/><line x1="150.4" y1="285.5" x2="207.4" y2="285.5" stroke="#2234cc"/><line x1="117.0" y1="287.5" x2="182.4" y2="287.5" stroke="#2fcc1c"/><line x1="117.0" y1="288.5" x2="172.4" y2="288.5" stroke="#2a8a70"/><line x1="114.4" y1="290.5" x2="154.8" y2="290.5" stroke="#2a8a70"/><line x1="154.8" y1="290.5" x2="175.0" y2="290.5" stroke="#ff1444"/><line x1="113.3" y1="291.5" x2="167.4" y2="291.5" stroke="#ff1444"/><line x1="108.9" y1="292.5" x2="181.2" y2="292.5" stroke="#ff1444"/><line x1="154.8" y1="294.5" x2="185.5" y2="294.5" stroke="#ff78b0"/><line x1="185.5" y1="294.5" x2="207.4" y2="294.5" stroke="#f81cf0"/><line x1="157.7" y1="295.5" x2="196.2" y2="295.5" stroke="#ff8a10"/><line x1="166.0" y1="296.5" x2="192.5" y2="296.5" stroke="#8c7a34"/><line x1="192.5" y1="296.5" x2="204.9" y2="296.5" stroke="#2234cc"/><line x1="166.0" y1="298.5" x2="175.0" y2="298.5" stroke="#ffff10"/><line x1="162.8" y1="300.5" x2="183.7" y2="300.5" stroke="#f81cf0"/><line x1="140.9" y1="301.5" x2="193.6" y2="301.5" stroke="#f81cf0"/><line x1="140.9" y1="303.5" x2="163.5" y2="303.5" stroke="#ff1444"/><line x1="163.5" y1="303.5" x2="170.0" y2="303.5" stroke="#ffff10"/><line x1="134.0" y1="305.5" x2="203.4" y2="305.5" stroke="#8fe24a"/><line x1="203.4" y1="305.5" x2="238.5" y2="305.5" stroke="#ff1444"/><line x1="138.1" y1="307.5" x2="181.2" y2="307.5" stroke="#ff8a10"/><line x1="181.2" y1="307.5" x2="198.6" y2="307.5" stroke="#8fe24a"/><line x1="138.1" y1="309.5" x2="180.0" y2="309.5" stroke="#2fcc1c"/><line x1="122.7" y1="311.5" x2="173.7" y2="311.5" stroke="#ff1444"/><line x1="129.6" y1="313.5" x2="165.4" y2="313.5" stroke="#8c7a34"/><line x1="165.4" y1="313.5" x2="196.0" y2="313.5" stroke="#f81cf0"/><line x1="129.6" y1="314.5" x2="180.0" y2="314.5" stroke="#5a7ee6"/><line x1="109.7" y1="316.5" x2="153.6" y2="316.5" stroke="#ff1444"/><line x1="153.6" y1="316.5" x2="193.6" y2="316.5" stroke="#f81cf0"/><line x1="114.0" y1="318.5" x2="141.7" y2="318.5" stroke="#ff78b0"/><line x1="141.7" y1="318.5" x2="175.0" y2="318.5" stroke="#f81cf0"/><line x1="121.5" y1="320.5" x2="154.4" y2="320.5" stroke="#8fe24a"/><line x1="121.5" y1="321.5" x2="163.4" y2="321.5" stroke="#2fcc1c"/><line x1="163.4" y1="321.5" x2="181.2" y2="321.5" stroke="#2234cc"/><line x1="118.8" y1="323.5" x2="140.8" y2="323.5" stroke="#a08888"/><line x1="140.8" y1="323.5" x2="165.0" y2="323.5" stroke="#2fcc1c"/><line x1="116.1" y1="324.5" x2="160.0" y2="324.5" stroke="#8fe24a"/><line x1="117.9" y1="325.5" x2="155.6" y2="325.5" stroke="#8fe24a"/><line x1="155.6" y1="325.5" x2="175.0" y2="325.5" stroke="#2234cc"/><line x1="117.9" y1="327.5" x2="143.7" y2="327.5" stroke="#2234cc"/><line x1="143.7" y1="327.5" x2="150.2" y2="327.5" stroke="#2fcc1c"/><line x1="108.3" y1="328.5" x2="168.1" y2="328.5" stroke="#2a8a70"/><line x1="168.1" y1="328.5" x2="267.0" y2="328.5" stroke="#2234cc"/><line x1="101.6" y1="330.5" x2="143.6" y2="330.5" stroke="#ff8a10"/><line x1="143.6" y1="330.5" x2="170.0" y2="330.5" stroke="#ff78b0"/><line x1="101.6" y1="332.5" x2="161.2" y2="332.5" stroke="#ff1444"/><line x1="99.5" y1="333.5" x2="180.0" y2="333.5" stroke="#ff1444"/><line x1="103.8" y1="335.5" x2="140.2" y2="335.5" stroke="#8c7a34"/><line x1="140.2" y1="335.5" x2="185.0" y2="335.5" stroke="#2fcc1c"/><line x1="103.8" y1="336.5" x2="157.8" y2="336.5" stroke="#8fe24a"/><line x1="93.9" y1="338.5" x2="145.5" y2="338.5" stroke="#ffff10"/><line x1="145.5" y1="338.5" x2="190.0" y2="338.5" stroke="#8fe24a"/><line x1="93.9" y1="339.5" x2="160.0" y2="339.5" stroke="#ffff10"/><line x1="80.4" y1="341.5" x2="130.6" y2="341.5" stroke="#f81cf0"/><line x1="130.6" y1="341.5" x2="166.2" y2="341.5" stroke="#5a7ee6"/><line x1="84.5" y1="343.5" x2="114.5" y2="343.5" stroke="#ff8a10"/><line x1="114.5" y1="343.5" x2="156.2" y2="343.5" stroke="#ffff10"/><line x1="84.5" y1="345.5" x2="110.7" y2="345.5" stroke="#f81cf0"/><line x1="110.7" y1="345.5" x2="165.0" y2="345.5" stroke="#f81cf0"/><line x1="85.6" y1="347.5" x2="170.0" y2="347.5" stroke="#2234cc"/><line x1="88.2" y1="349.5" x2="176.2" y2="349.5" stroke="#2a8a70"/><line x1="91.5" y1="351.5" x2="130.1" y2="351.5" stroke="#f81cf0"/><line x1="130.1" y1="351.5" x2="186.2" y2="351.5" stroke="#ff1444"/><line x1="85.8" y1="353.5" x2="178.7" y2="353.5" stroke="#ff1444"/><line x1="90.7" y1="355.5" x2="133.1" y2="355.5" stroke="#5a7ee6"/><line x1="133.1" y1="355.5" x2="162.5" y2="355.5" stroke="#ff8a10"/><line x1="90.7" y1="357.5" x2="157.5" y2="357.5" stroke="#ff8a10"/><line x1="85.3" y1="359.5" x2="147.4" y2="359.5" stroke="#2234cc"/><line x1="147.4" y1="359.5" x2="173.7" y2="359.5" stroke="#2fcc1c"/><line x1="88.0" y1="361.5" x2="146.2" y2="361.5" stroke="#8fe24a"/><line x1="146.2" y1="361.5" x2="175.0" y2="361.5" stroke="#ffff10"/><line x1="88.0" y1="363.5" x2="140.9" y2="363.5" stroke="#ff1444"/><line x1="140.9" y1="363.5" x2="168.7" y2="363.5" stroke="#2fcc1c"/><line x1="117.9" y1="365.5" x2="143.5" y2="365.5" stroke="#8fe24a"/><line x1="143.5" y1="365.5" x2="161.2" y2="365.5" stroke="#ff1444"/><line x1="117.9" y1="367.5" x2="156.0" y2="367.5" stroke="#ffff10"/><line x1="156.0" y1="367.5" x2="187.4" y2="367.5" stroke="#2fcc1c"/><line x1="116.6" y1="369.5" x2="169.8" y2="369.5" stroke="#f81cf0"/><line x1="169.8" y1="369.5" x2="191.0" y2="369.5" stroke="#2234cc"/><line x1="114.9" y1="371.5" x2="143.3" y2="371.5" stroke="#2a8a70"/><line x1="143.3" y1="371.5" x2="165.0" y2="371.5" stroke="#f81cf0"/><line x1="120.7" y1="373.5" x2="167.5" y2="373.5" stroke="#f81cf0"/><line x1="120.7" y1="375.5" x2="153.7" y2="375.5" stroke="#a08888"/><line x1="112.4" y1="377.5" x2="157.5" y2="377.5" stroke="#ffff10"/><line x1="103.5" y1="379.5" x2="128.8" y2="379.5" stroke="#f81cf0"/><line x1="128.8" y1="379.5" x2="172.4" y2="379.5" stroke="#ff78b0"/><line x1="110.6" y1="381.5" x2="157.5" y2="381.5" stroke="#ff8a10"/><line x1="110.6" y1="383.5" x2="147.8" y2="383.5" stroke="#ff8a10"/><line x1="147.8" y1="383.5" x2="182.4" y2="383.5" stroke="#f81cf0"/><line x1="99.8" y1="385.5" x2="147.7" y2="385.5" stroke="#f81cf0"/><line x1="147.7" y1="385.5" x2="167.5" y2="385.5" stroke="#2fcc1c"/><line x1="97.8" y1="387.5" x2="137.0" y2="387.5" stroke="#2a8a70"/><line x1="137.0" y1="387.5" x2="188.7" y2="387.5" stroke="#2234cc"/><line x1="95.8" y1="389.5" x2="171.2" y2="389.5" stroke="#ff78b0"/><line x1="101.1" y1="391.5" x2="147.8" y2="391.5" stroke="#ff8a10"/><line x1="147.8" y1="391.5" x2="182.4" y2="391.5" stroke="#f81cf0"/><line x1="101.1" y1="393.5" x2="131.7" y2="393.5" stroke="#f81cf0"/><line x1="131.7" y1="393.5" x2="139.8" y2="393.5" stroke="#ff1444"/><line x1="93.3" y1="394.5" x2="137.4" y2="394.5" stroke="#2234cc"/><line x1="137.4" y1="394.5" x2="167.5" y2="394.5" stroke="#f81cf0"/><line x1="91.9" y1="397.5" x2="135.0" y2="397.5" stroke="#8fe24a"/><line x1="135.0" y1="397.5" x2="165.0" y2="397.5" stroke="#2fcc1c"/><line x1="108.8" y1="399.5" x2="135.6" y2="399.5" stroke="#2a8a70"/><line x1="135.6" y1="399.5" x2="170.0" y2="399.5" stroke="#2234cc"/><line x1="108.8" y1="400.5" x2="138.6" y2="400.5" stroke="#2a8a70"/><line x1="138.6" y1="400.5" x2="152.3" y2="400.5" stroke="#ff78b0"/><line x1="102.5" y1="402.5" x2="161.2" y2="402.5" stroke="#f81cf0"/><line x1="92.2" y1="404.5" x2="137.1" y2="404.5" stroke="#8c7a34"/><line x1="137.1" y1="404.5" x2="185.0" y2="404.5" stroke="#f81cf0"/><line x1="90.2" y1="406.5" x2="127.8" y2="406.5" stroke="#8fe24a"/><line x1="127.8" y1="406.5" x2="185.0" y2="406.5" stroke="#2234cc"/><line x1="89.7" y1="408.5" x2="175.0" y2="408.5" stroke="#f81cf0"/><line x1="91.9" y1="410.5" x2="156.2" y2="410.5" stroke="#2a8a70"/><line x1="91.9" y1="412.5" x2="125.6" y2="412.5" stroke="#f81cf0"/><line x1="125.6" y1="412.5" x2="165.0" y2="412.5" stroke="#f81cf0"/><line x1="88.4" y1="413.5" x2="145.1" y2="413.5" stroke="#f81cf0"/><line x1="96.8" y1="415.5" x2="156.8" y2="415.5" stroke="#9a5ad8"/><line x1="156.8" y1="415.5" x2="193.6" y2="415.5" stroke="#2234cc"/><line x1="96.8" y1="417.5" x2="172.4" y2="417.5" stroke="#ff78b0"/><line x1="92.2" y1="419.5" x2="123.1" y2="419.5" stroke="#ff8a10"/><line x1="123.1" y1="419.5" x2="161.2" y2="419.5" stroke="#ff1444"/><line x1="94.3" y1="421.5" x2="157.5" y2="421.5" stroke="#9a5ad8"/><line x1="94.3" y1="423.5" x2="150.4" y2="423.5" stroke="#ff8a10"/><line x1="92.5" y1="425.5" x2="143.9" y2="425.5" stroke="#f81cf0"/><line x1="143.9" y1="425.5" x2="172.4" y2="425.5" stroke="#ff1444"/><line x1="92.5" y1="427.5" x2="128.0" y2="427.5" stroke="#ff1444"/><line x1="128.0" y1="427.5" x2="163.7" y2="427.5" stroke="#2234cc"/><line x1="95.5" y1="429.5" x2="165.0" y2="429.5" stroke="#9a5ad8"/><line x1="104.9" y1="431.5" x2="131.9" y2="431.5" stroke="#8c7a34"/><line x1="131.9" y1="431.5" x2="173.7" y2="431.5" stroke="#2234cc"/><line x1="109.5" y1="433.5" x2="167.5" y2="433.5" stroke="#5a7ee6"/><line x1="109.5" y1="435.5" x2="166.2" y2="435.5" stroke="#ff1444"/><line x1="106.9" y1="437.5" x2="137.8" y2="437.5" stroke="#2a8a70"/><line x1="137.8" y1="437.5" x2="146.6" y2="437.5" stroke="#2fcc1c"/><line x1="100.6" y1="439.5" x2="157.6" y2="439.5" stroke="#5a7ee6"/><line x1="157.6" y1="439.5" x2="183.7" y2="439.5" stroke="#f81cf0"/><line x1="91.7" y1="441.5" x2="137.4" y2="441.5" stroke="#9a5ad8"/><line x1="137.4" y1="441.5" x2="160.0" y2="441.5" stroke="#f81cf0"/><line x1="91.7" y1="443.5" x2="127.5" y2="443.5" stroke="#8fe24a"/><line x1="127.5" y1="443.5" x2="176.2" y2="443.5" stroke="#2fcc1c"/><line x1="104.8" y1="445.5" x2="145.0" y2="445.5" stroke="#2fcc1c"/><line x1="145.0" y1="445.5" x2="165.0" y2="445.5" stroke="#2234cc"/><line x1="104.8" y1="447.5" x2="157.2" y2="447.5" stroke="#ff78b0"/><line x1="99.9" y1="448.5" x2="126.6" y2="448.5" stroke="#8c7a34"/><line x1="126.6" y1="448.5" x2="161.2" y2="448.5" stroke="#ff78b0"/><line x1="106.0" y1="450.5" x2="177.4" y2="450.5" stroke="#2234cc"/><line x1="103.6" y1="451.5" x2="178.7" y2="451.5" stroke="#2234cc"/><line x1="100.3" y1="453.5" x2="163.9" y2="453.5" stroke="#ff1444"/><line x1="110.1" y1="454.5" x2="147.3" y2="454.5" stroke="#8c7a34"/><line x1="147.3" y1="454.5" x2="171.2" y2="454.5" stroke="#ff1444"/><line x1="110.1" y1="456.5" x2="163.7" y2="456.5" stroke="#9a5ad8"/><line x1="102.1" y1="457.5" x2="134.8" y2="457.5" stroke="#2fcc1c"/><line x1="134.8" y1="457.5" x2="160.0" y2="457.5" stroke="#f81cf0"/><line x1="97.0" y1="459.5" x2="131.6" y2="459.5" stroke="#5a7ee6"/><line x1="131.6" y1="459.5" x2="165.0" y2="459.5" stroke="#2234cc"/><line x1="99.5" y1="461.5" x2="123.0" y2="461.5" stroke="#ff78b0"/><line x1="123.0" y1="461.5" x2="160.0" y2="461.5" stroke="#f81cf0"/><line x1="99.5" y1="462.5" x2="110.7" y2="462.5" stroke="#ff8a10"/><line x1="110.7" y1="462.5" x2="132.6" y2="462.5" stroke="#ff78b0"/><line x1="96.2" y1="464.5" x2="151.2" y2="464.5" stroke="#f81cf0"/><line x1="151.2" y1="464.5" x2="165.0" y2="464.5" stroke="#ff78b0"/><line x1="96.2" y1="465.5" x2="162.0" y2="465.5" stroke="#f81cf0"/><line x1="90.7" y1="467.5" x2="121.1" y2="467.5" stroke="#9a5ad8"/><line x1="121.1" y1="467.5" x2="170.0" y2="467.5" stroke="#2234cc"/><line x1="90.7" y1="469.5" x2="121.0" y2="469.5" stroke="#2a8a70"/><line x1="121.0" y1="469.5" x2="160.0" y2="469.5" stroke="#2234cc"/><line x1="103.0" y1="471.5" x2="138.5" y2="471.5" stroke="#f81cf0"/><line x1="138.5" y1="471.5" x2="162.5" y2="471.5" stroke="#2234cc"/><line x1="103.0" y1="473.5" x2="151.7" y2="473.5" stroke="#5a7ee6"/><line x1="151.7" y1="473.5" x2="181.2" y2="473.5" stroke="#f81cf0"/><line x1="100.3" y1="475.5" x2="132.8" y2="475.5" stroke="#ff78b0"/><line x1="132.8" y1="475.5" x2="175.0" y2="475.5" stroke="#ffff10"/><line x1="97.5" y1="477.5" x2="165.0" y2="477.5" stroke="#ffff10"/><line x1="100.3" y1="478.5" x2="137.2" y2="478.5" stroke="#f81cf0"/><line x1="100.3" y1="480.5" x2="157.5" y2="480.5" stroke="#5a7ee6"/><line x1="99.2" y1="482.5" x2="144.9" y2="482.5" stroke="#ff8a10"/><line x1="144.9" y1="482.5" x2="193.6" y2="482.5" stroke="#2234cc"/><line x1="98.2" y1="483.5" x2="162.5" y2="483.5" stroke="#2234cc"/><line x1="100.2" y1="485.5" x2="170.0" y2="485.5" stroke="#ff78b0"/><line x1="101.2" y1="486.5" x2="151.3" y2="486.5" stroke="#f81cf0"/><line x1="151.3" y1="486.5" x2="175.0" y2="486.5" stroke="#ff1444"/><line x1="92.4" y1="488.5" x2="115.0" y2="488.5" stroke="#f81cf0"/><line x1="115.0" y1="488.5" x2="168.7" y2="488.5" stroke="#2234cc"/><line x1="109.9" y1="490.5" x2="146.6" y2="490.5" stroke="#ff1444"/><line x1="146.6" y1="490.5" x2="165.0" y2="490.5" stroke="#2234cc"/><line x1="109.9" y1="492.5" x2="156.3" y2="492.5" stroke="#5a7ee6"/><line x1="102.6" y1="493.5" x2="162.0" y2="493.5" stroke="#f81cf0"/><line x1="97.9" y1="494.5" x2="145.2" y2="494.5" stroke="#ffff10"/><line x1="89.8" y1="496.5" x2="153.2" y2="496.5" stroke="#2a8a70"/><line x1="153.2" y1="496.5" x2="188.7" y2="496.5" stroke="#2234cc"/><line x1="96.7" y1="498.5" x2="146.0" y2="498.5" stroke="#2234cc"/><line x1="146.0" y1="498.5" x2="168.7" y2="498.5" stroke="#5a7ee6"/><line x1="101.6" y1="500.5" x2="163.6" y2="500.5" stroke="#8c7a34"/><line x1="163.6" y1="500.5" x2="186.2" y2="500.5" stroke="#2234cc"/><line x1="101.6" y1="502.5" x2="130.3" y2="502.5" stroke="#f81cf0"/><line x1="130.3" y1="502.5" x2="160.0" y2="502.5" stroke="#ff1444"/><line x1="98.6" y1="504.5" x2="165.0" y2="504.5" stroke="#ffff10"/><line x1="89.3" y1="506.5" x2="143.7" y2="506.5" stroke="#ff8a10"/><line x1="143.7" y1="506.5" x2="175.0" y2="506.5" stroke="#ff78b0"/><line x1="95.0" y1="508.5" x2="148.6" y2="508.5" stroke="#9a5ad8"/><line x1="148.6" y1="508.5" x2="180.0" y2="508.5" stroke="#ff78b0"/><line x1="102.7" y1="510.5" x2="176.2" y2="510.5" stroke="#ff8a10"/><line x1="102.7" y1="512.5" x2="156.2" y2="512.5" stroke="#f81cf0"/><line x1="103.9" y1="514.5" x2="158.7" y2="514.5" stroke="#9a5ad8"/><line x1="103.9" y1="515.5" x2="145.6" y2="515.5" stroke="#2234cc"/><line x1="145.6" y1="515.5" x2="161.2" y2="515.5" stroke="#f81cf0"/><line x1="90.1" y1="517.5" x2="130.2" y2="517.5" stroke="#8fe24a"/><line x1="130.2" y1="517.5" x2="173.7" y2="517.5" stroke="#ffff10"/><line x1="93.9" y1="518.5" x2="148.1" y2="518.5" stroke="#8fe24a"/><line x1="148.1" y1="518.5" x2="164.1" y2="518.5" stroke="#f81cf0"/><line x1="93.9" y1="520.5" x2="128.3" y2="520.5" stroke="#9a5ad8"/><line x1="128.3" y1="520.5" x2="168.7" y2="520.5" stroke="#2234cc"/><line x1="87.5" y1="522.5" x2="130.4" y2="522.5" stroke="#f81cf0"/><line x1="130.4" y1="522.5" x2="171.2" y2="522.5" stroke="#2234cc"/><line x1="88.4" y1="524.5" x2="151.5" y2="524.5" stroke="#2a8a70"/><line x1="151.5" y1="524.5" x2="177.4" y2="524.5" stroke="#2234cc"/><line x1="101.4" y1="525.5" x2="172.0" y2="525.5" stroke="#2fcc1c"/><line x1="101.4" y1="527.5" x2="145.1" y2="527.5" stroke="#f81cf0"/><line x1="145.1" y1="527.5" x2="170.0" y2="527.5" stroke="#ff78b0"/><line x1="95.9" y1="528.5" x2="148.5" y2="528.5" stroke="#ff78b0"/><line x1="93.7" y1="529.5" x2="148.9" y2="529.5" stroke="#f81cf0"/><line x1="148.9" y1="529.5" x2="176.2" y2="529.5" stroke="#2234cc"/><line x1="94.2" y1="531.5" x2="173.0" y2="531.5" stroke="#f81cf0"/><line x1="94.2" y1="532.5" x2="138.9" y2="532.5" stroke="#9a5ad8"/><line x1="92.7" y1="533.5" x2="136.7" y2="533.5" stroke="#ff78b0"/><line x1="136.7" y1="533.5" x2="170.0" y2="533.5" stroke="#f81cf0"/><line x1="92.7" y1="535.5" x2="165.0" y2="535.5" stroke="#a08888"/></g><g stroke="#74383c" stroke-width="1" shape-rendering="crispEdges"><line x1="147.5" y1="11.5" x2="147.5" y2="12.5"/><line x1="138.5" y1="12.5" x2="147.5" y2="12.5" stroke="#8a5a5a"/><line x1="145.5" y1="13.5" x2="145.5" y2="14.5"/><line x1="136.5" y1="14.5" x2="145.5" y2="14.5" stroke="#8a5a5a"/><line x1="143.5" y1="16.5" x2="143.5" y2="17.5"/><line x1="142.5" y1="16.5" x2="143.5" y2="16.5" stroke="#8a5a5a"/><line x1="142.5" y1="15.5" x2="142.5" y2="16.5"/><line x1="135.5" y1="16.5" x2="142.5" y2="16.5" stroke="#8a5a5a"/><line x1="145.5" y1="20.5" x2="145.5" y2="21.5"/><line x1="142.5" y1="20.5" x2="145.5" y2="20.5" stroke="#8a5a5a"/><line x1="142.5" y1="19.5" x2="142.5" y2="20.5"/><line x1="139.5" y1="20.5" x2="142.5" y2="20.5" stroke="#8a5a5a"/><line x1="139.5" y1="20.5" x2="139.5" y2="23.5"/><line x1="131.5" y1="21.5" x2="139.5" y2="21.5" stroke="#8a5a5a"/><line x1="128.5" y1="24.5" x2="131.5" y2="24.5" stroke="#8a5a5a"/><line x1="121.5" y1="26.5" x2="121.5" y2="28.5"/><line x1="121.5" y1="27.5" x2="121.5" y2="27.5" stroke="#8a5a5a"/><line x1="125.5" y1="30.5" x2="125.5" y2="32.5"/><line x1="119.5" y1="31.5" x2="125.5" y2="31.5" stroke="#8a5a5a"/><line x1="119.5" y1="29.5" x2="119.5" y2="31.5"/><line x1="115.5" y1="30.5" x2="119.5" y2="30.5" stroke="#8a5a5a"/><line x1="123.5" y1="35.5" x2="123.5" y2="36.5"/><line x1="122.5" y1="36.5" x2="123.5" y2="36.5" stroke="#8a5a5a"/><line x1="122.5" y1="34.5" x2="122.5" y2="36.5"/><line x1="117.5" y1="35.5" x2="122.5" y2="35.5" stroke="#8a5a5a"/><line x1="117.5" y1="33.5" x2="117.5" y2="35.5"/><line x1="113.5" y1="34.5" x2="117.5" y2="34.5" stroke="#8a5a5a"/><line x1="113.5" y1="34.5" x2="113.5" y2="38.5"/><line x1="110.5" y1="36.5" x2="113.5" y2="36.5" stroke="#8a5a5a"/><line x1="112.5" y1="40.5" x2="112.5" y2="41.5"/><line x1="106.5" y1="40.5" x2="112.5" y2="40.5" stroke="#8a5a5a"/><line x1="175.5" y1="47.5" x2="175.5" y2="48.5"/><line x1="170.5" y1="48.5" x2="175.5" y2="48.5" stroke="#8a5a5a"/><line x1="170.5" y1="46.5" x2="170.5" y2="48.5"/><line x1="162.5" y1="47.5" x2="170.5" y2="47.5" stroke="#8a5a5a"/><line x1="162.5" y1="47.5" x2="162.5" y2="49.5"/><line x1="146.5" y1="48.5" x2="162.5" y2="48.5" stroke="#8a5a5a"/><line x1="140.5" y1="50.5" x2="144.5" y2="50.5" stroke="#8a5a5a"/><line x1="154.5" y1="51.5" x2="154.5" y2="52.5"/><line x1="136.5" y1="52.5" x2="154.5" y2="52.5" stroke="#8a5a5a"/><line x1="126.5" y1="54.5" x2="135.5" y2="54.5" stroke="#8a5a5a"/><line x1="142.5" y1="55.5" x2="142.5" y2="56.5"/><line x1="137.5" y1="56.5" x2="142.5" y2="56.5" stroke="#8a5a5a"/><line x1="137.5" y1="56.5" x2="137.5" y2="57.5"/><line x1="135.5" y1="56.5" x2="137.5" y2="56.5" stroke="#8a5a5a"/><line x1="135.5" y1="56.5" x2="135.5" y2="58.5"/><line x1="123.5" y1="57.5" x2="135.5" y2="57.5" stroke="#8a5a5a"/><line x1="131.5" y1="59.5" x2="131.5" y2="60.5"/><line x1="120.5" y1="60.5" x2="131.5" y2="60.5" stroke="#8a5a5a"/><line x1="119.5" y1="61.5" x2="123.5" y2="61.5" stroke="#8a5a5a"/><line x1="134.5" y1="65.5" x2="134.5" y2="66.5"/><line x1="133.5" y1="66.5" x2="134.5" y2="66.5" stroke="#8a5a5a"/><line x1="133.5" y1="66.5" x2="133.5" y2="67.5"/><line x1="129.5" y1="66.5" x2="133.5" y2="66.5" stroke="#8a5a5a"/><line x1="129.5" y1="66.5" x2="129.5" y2="68.5"/><line x1="123.5" y1="67.5" x2="129.5" y2="67.5" stroke="#8a5a5a"/><line x1="123.5" y1="63.5" x2="123.5" y2="67.5"/><line x1="117.5" y1="65.5" x2="123.5" y2="65.5" stroke="#8a5a5a"/><line x1="125.5" y1="70.5" x2="125.5" y2="72.5"/><line x1="122.5" y1="71.5" x2="125.5" y2="71.5" stroke="#8a5a5a"/><line x1="127.5" y1="74.5" x2="127.5" y2="75.5"/><line x1="122.5" y1="74.5" x2="127.5" y2="74.5" stroke="#8a5a5a"/><line x1="122.5" y1="71.5" x2="122.5" y2="74.5"/><line x1="121.5" y1="73.5" x2="122.5" y2="73.5" stroke="#8a5a5a"/><line x1="141.5" y1="76.5" x2="144.5" y2="76.5" stroke="#8a5a5a"/><line x1="148.5" y1="77.5" x2="148.5" y2="78.5"/><line x1="145.5" y1="78.5" x2="148.5" y2="78.5" stroke="#8a5a5a"/><line x1="145.5" y1="78.5" x2="145.5" y2="79.5"/><line x1="144.5" y1="78.5" x2="145.5" y2="78.5" stroke="#8a5a5a"/><line x1="144.5" y1="78.5" x2="144.5" y2="81.5"/><line x1="133.5" y1="80.5" x2="144.5" y2="80.5" stroke="#8a5a5a"/><line x1="124.5" y1="83.5" x2="128.5" y2="83.5" stroke="#8a5a5a"/><line x1="124.5" y1="84.5" x2="124.5" y2="86.5"/><line x1="122.5" y1="85.5" x2="124.5" y2="85.5" stroke="#8a5a5a"/><line x1="123.5" y1="88.5" x2="123.5" y2="89.5"/><line x1="121.5" y1="88.5" x2="123.5" y2="88.5" stroke="#8a5a5a"/><line x1="121.5" y1="88.5" x2="121.5" y2="90.5"/><line x1="118.5" y1="89.5" x2="121.5" y2="89.5" stroke="#8a5a5a"/><line x1="130.5" y1="91.5" x2="130.5" y2="93.5"/><line x1="126.5" y1="92.5" x2="130.5" y2="92.5" stroke="#8a5a5a"/><line x1="126.5" y1="92.5" x2="126.5" y2="94.5"/><line x1="116.5" y1="93.5" x2="126.5" y2="93.5" stroke="#8a5a5a"/><line x1="124.5" y1="96.5" x2="124.5" y2="98.5"/><line x1="117.5" y1="97.5" x2="124.5" y2="97.5" stroke="#8a5a5a"/><line x1="117.5" y1="95.5" x2="117.5" y2="97.5"/><line x1="111.5" y1="96.5" x2="117.5" y2="96.5" stroke="#8a5a5a"/><line x1="120.5" y1="100.5" x2="120.5" y2="101.5"/><line x1="116.5" y1="100.5" x2="120.5" y2="100.5" stroke="#8a5a5a"/><line x1="123.5" y1="103.5" x2="123.5" y2="105.5"/><line x1="121.5" y1="104.5" x2="123.5" y2="104.5" stroke="#8a5a5a"/><line x1="121.5" y1="104.5" x2="121.5" y2="106.5"/><line x1="116.5" y1="105.5" x2="121.5" y2="105.5" stroke="#8a5a5a"/><line x1="119.5" y1="110.5" x2="119.5" y2="111.5"/><line x1="111.5" y1="110.5" x2="119.5" y2="110.5" stroke="#8a5a5a"/><line x1="126.5" y1="114.5" x2="126.5" y2="116.5"/><line x1="123.5" y1="115.5" x2="126.5" y2="115.5" stroke="#8a5a5a"/><line x1="123.5" y1="112.5" x2="123.5" y2="115.5"/><line x1="116.5" y1="114.5" x2="123.5" y2="114.5" stroke="#8a5a5a"/><line x1="116.5" y1="114.5" x2="116.5" y2="118.5"/><line x1="112.5" y1="116.5" x2="116.5" y2="116.5" stroke="#8a5a5a"/><line x1="112.5" y1="116.5" x2="112.5" y2="119.5"/><line x1="110.5" y1="117.5" x2="112.5" y2="117.5" stroke="#8a5a5a"/><line x1="116.5" y1="123.5" x2="116.5" y2="125.5"/><line x1="106.5" y1="124.5" x2="116.5" y2="124.5" stroke="#8a5a5a"/><line x1="103.5" y1="127.5" x2="103.5" y2="129.5"/><line x1="100.5" y1="128.5" x2="103.5" y2="128.5" stroke="#8a5a5a"/><line x1="126.5" y1="130.5" x2="130.5" y2="130.5" stroke="#8a5a5a"/><line x1="122.5" y1="132.5" x2="126.5" y2="132.5" stroke="#8a5a5a"/><line x1="129.5" y1="134.5" x2="129.5" y2="135.5"/><line x1="127.5" y1="134.5" x2="129.5" y2="134.5" stroke="#8a5a5a"/><line x1="127.5" y1="133.5" x2="127.5" y2="134.5"/><line x1="120.5" y1="134.5" x2="127.5" y2="134.5" stroke="#8a5a5a"/><line x1="118.5" y1="136.5" x2="120.5" y2="136.5" stroke="#8a5a5a"/><line x1="117.5" y1="137.5" x2="122.5" y2="137.5" stroke="#8a5a5a"/><line x1="114.5" y1="139.5" x2="118.5" y2="139.5" stroke="#8a5a5a"/><line x1="118.5" y1="141.5" x2="118.5" y2="143.5"/><line x1="110.5" y1="142.5" x2="118.5" y2="142.5" stroke="#8a5a5a"/><line x1="106.5" y1="145.5" x2="106.5" y2="146.5"/><line x1="99.5" y1="146.5" x2="106.5" y2="146.5" stroke="#8a5a5a"/><line x1="107.5" y1="148.5" x2="107.5" y2="150.5"/><line x1="104.5" y1="149.5" x2="107.5" y2="149.5" stroke="#8a5a5a"/><line x1="104.5" y1="149.5" x2="104.5" y2="152.5"/><line x1="103.5" y1="150.5" x2="104.5" y2="150.5" stroke="#8a5a5a"/><line x1="103.5" y1="147.5" x2="103.5" y2="150.5"/><line x1="97.5" y1="149.5" x2="103.5" y2="149.5" stroke="#8a5a5a"/><line x1="101.5" y1="153.5" x2="101.5" y2="155.5"/><line x1="97.5" y1="154.5" x2="101.5" y2="154.5" stroke="#8a5a5a"/><line x1="101.5" y1="156.5" x2="101.5" y2="158.5"/><line x1="97.5" y1="157.5" x2="101.5" y2="157.5" stroke="#8a5a5a"/><line x1="97.5" y1="154.5" x2="97.5" y2="157.5"/><line x1="95.5" y1="156.5" x2="97.5" y2="156.5" stroke="#8a5a5a"/><line x1="96.5" y1="159.5" x2="96.5" y2="161.5"/><line x1="94.5" y1="160.5" x2="96.5" y2="160.5" stroke="#8a5a5a"/><line x1="97.5" y1="167.5" x2="97.5" y2="169.5"/><line x1="95.5" y1="168.5" x2="97.5" y2="168.5" stroke="#8a5a5a"/><line x1="107.5" y1="175.5" x2="107.5" y2="176.5"/><line x1="106.5" y1="176.5" x2="107.5" y2="176.5" stroke="#8a5a5a"/><line x1="106.5" y1="176.5" x2="106.5" y2="178.5"/><line x1="104.5" y1="177.5" x2="106.5" y2="177.5" stroke="#8a5a5a"/><line x1="98.5" y1="179.5" x2="98.5" y2="181.5"/><line x1="95.5" y1="180.5" x2="98.5" y2="180.5" stroke="#8a5a5a"/><line x1="114.5" y1="182.5" x2="114.5" y2="184.5"/><line x1="107.5" y1="183.5" x2="114.5" y2="183.5" stroke="#8a5a5a"/><line x1="107.5" y1="183.5" x2="107.5" y2="185.5"/><line x1="99.5" y1="184.5" x2="107.5" y2="184.5" stroke="#8a5a5a"/><line x1="99.5" y1="184.5" x2="99.5" y2="186.5"/><line x1="97.5" y1="185.5" x2="99.5" y2="185.5" stroke="#8a5a5a"/><line x1="154.5" y1="188.5" x2="154.5" y2="190.5"/><line x1="151.5" y1="189.5" x2="154.5" y2="189.5" stroke="#8a5a5a"/><line x1="151.5" y1="189.5" x2="151.5" y2="192.5"/><line x1="137.5" y1="190.5" x2="151.5" y2="190.5" stroke="#8a5a5a"/><line x1="147.5" y1="194.5" x2="147.5" y2="196.5"/><line x1="135.5" y1="195.5" x2="147.5" y2="195.5" stroke="#8a5a5a"/><line x1="133.5" y1="198.5" x2="138.5" y2="198.5" stroke="#8a5a5a"/><line x1="131.5" y1="200.5" x2="133.5" y2="200.5" stroke="#8a5a5a"/><line x1="131.5" y1="201.5" x2="131.5" y2="203.5"/><line x1="125.5" y1="202.5" x2="131.5" y2="202.5" stroke="#8a5a5a"/><line x1="134.5" y1="205.5" x2="134.5" y2="207.5"/><line x1="132.5" y1="206.5" x2="134.5" y2="206.5" stroke="#8a5a5a"/><line x1="132.5" y1="206.5" x2="132.5" y2="209.5"/><line x1="120.5" y1="208.5" x2="132.5" y2="208.5" stroke="#8a5a5a"/><line x1="117.5" y1="210.5" x2="120.5" y2="210.5" stroke="#8a5a5a"/><line x1="117.5" y1="211.5" x2="121.5" y2="211.5" stroke="#8a5a5a"/><line x1="125.5" y1="213.5" x2="125.5" y2="216.5"/><line x1="115.5" y1="214.5" x2="125.5" y2="214.5" stroke="#8a5a5a"/><line x1="119.5" y1="217.5" x2="119.5" y2="219.5"/><line x1="113.5" y1="218.5" x2="119.5" y2="218.5" stroke="#8a5a5a"/><line x1="131.5" y1="222.5" x2="131.5" y2="223.5"/><line x1="126.5" y1="222.5" x2="131.5" y2="222.5" stroke="#8a5a5a"/><line x1="126.5" y1="220.5" x2="126.5" y2="222.5"/><line x1="123.5" y1="221.5" x2="126.5" y2="221.5" stroke="#8a5a5a"/><line x1="123.5" y1="221.5" x2="123.5" y2="224.5"/><line x1="118.5" y1="223.5" x2="123.5" y2="223.5" stroke="#8a5a5a"/><line x1="118.5" y1="223.5" x2="118.5" y2="225.5"/><line x1="110.5" y1="224.5" x2="118.5" y2="224.5" stroke="#8a5a5a"/><line x1="119.5" y1="229.5" x2="119.5" y2="231.5"/><line x1="116.5" y1="230.5" x2="119.5" y2="230.5" stroke="#8a5a5a"/><line x1="116.5" y1="228.5" x2="116.5" y2="230.5"/><line x1="115.5" y1="229.5" x2="116.5" y2="229.5" stroke="#8a5a5a"/><line x1="115.5" y1="226.5" x2="115.5" y2="229.5"/><line x1="108.5" y1="228.5" x2="115.5" y2="228.5" stroke="#8a5a5a"/><line x1="110.5" y1="235.5" x2="110.5" y2="237.5"/><line x1="109.5" y1="236.5" x2="110.5" y2="236.5" stroke="#8a5a5a"/><line x1="115.5" y1="238.5" x2="115.5" y2="240.5"/><line x1="109.5" y1="239.5" x2="115.5" y2="239.5" stroke="#8a5a5a"/><line x1="131.5" y1="241.5" x2="131.5" y2="243.5"/><line x1="124.5" y1="242.5" x2="131.5" y2="242.5" stroke="#8a5a5a"/><line x1="124.5" y1="242.5" x2="124.5" y2="244.5"/><line x1="114.5" y1="243.5" x2="124.5" y2="243.5" stroke="#8a5a5a"/><line x1="112.5" y1="248.5" x2="112.5" y2="251.5"/><line x1="108.5" y1="250.5" x2="112.5" y2="250.5" stroke="#8a5a5a"/><line x1="108.5" y1="246.5" x2="108.5" y2="250.5"/><line x1="106.5" y1="248.5" x2="108.5" y2="248.5" stroke="#8a5a5a"/><line x1="101.5" y1="256.5" x2="101.5" y2="258.5"/><line x1="99.5" y1="257.5" x2="101.5" y2="257.5" stroke="#8a5a5a"/><line x1="103.5" y1="260.5" x2="103.5" y2="261.5"/><line x1="100.5" y1="260.5" x2="103.5" y2="260.5" stroke="#8a5a5a"/><line x1="112.5" y1="263.5" x2="112.5" y2="265.5"/><line x1="102.5" y1="264.5" x2="112.5" y2="264.5" stroke="#8a5a5a"/><line x1="127.5" y1="267.5" x2="127.5" y2="269.5"/><line x1="121.5" y1="268.5" x2="127.5" y2="268.5" stroke="#8a5a5a"/><line x1="118.5" y1="270.5" x2="123.5" y2="270.5" stroke="#8a5a5a"/><line x1="130.5" y1="274.5" x2="130.5" y2="276.5"/><line x1="124.5" y1="275.5" x2="130.5" y2="275.5" stroke="#8a5a5a"/><line x1="124.5" y1="272.5" x2="124.5" y2="275.5"/><line x1="115.5" y1="274.5" x2="124.5" y2="274.5" stroke="#8a5a5a"/><line x1="129.5" y1="277.5" x2="129.5" y2="278.5"/><line x1="127.5" y1="278.5" x2="129.5" y2="278.5" stroke="#8a5a5a"/><line x1="127.5" y1="278.5" x2="127.5" y2="280.5"/><line x1="113.5" y1="279.5" x2="127.5" y2="279.5" stroke="#8a5a5a"/><line x1="120.5" y1="282.5" x2="120.5" y2="284.5"/><line x1="116.5" y1="283.5" x2="120.5" y2="283.5" stroke="#8a5a5a"/><line x1="116.5" y1="283.5" x2="116.5" y2="285.5"/><line x1="109.5" y1="284.5" x2="116.5" y2="284.5" stroke="#8a5a5a"/><line x1="116.5" y1="287.5" x2="116.5" y2="288.5"/><line x1="114.5" y1="288.5" x2="116.5" y2="288.5" stroke="#8a5a5a"/><line x1="114.5" y1="288.5" x2="114.5" y2="290.5"/><line x1="113.5" y1="289.5" x2="114.5" y2="289.5" stroke="#8a5a5a"/><line x1="113.5" y1="289.5" x2="113.5" y2="291.5"/><line x1="108.5" y1="290.5" x2="113.5" y2="290.5" stroke="#8a5a5a"/><line x1="108.5" y1="290.5" x2="108.5" y2="292.5"/><line x1="104.5" y1="291.5" x2="108.5" y2="291.5" stroke="#8a5a5a"/><line x1="165.5" y1="296.5" x2="165.5" y2="298.5"/><line x1="162.5" y1="297.5" x2="165.5" y2="297.5" stroke="#8a5a5a"/><line x1="162.5" y1="297.5" x2="162.5" y2="300.5"/><line x1="157.5" y1="298.5" x2="162.5" y2="298.5" stroke="#8a5a5a"/><line x1="157.5" y1="295.5" x2="157.5" y2="298.5"/><line x1="154.5" y1="297.5" x2="157.5" y2="297.5" stroke="#8a5a5a"/><line x1="154.5" y1="294.5" x2="154.5" y2="297.5"/><line x1="142.5" y1="295.5" x2="154.5" y2="295.5" stroke="#8a5a5a"/><line x1="140.5" y1="301.5" x2="140.5" y2="303.5"/><line x1="130.5" y1="302.5" x2="140.5" y2="302.5" stroke="#8a5a5a"/><line x1="138.5" y1="307.5" x2="138.5" y2="309.5"/><line x1="133.5" y1="308.5" x2="138.5" y2="308.5" stroke="#8a5a5a"/><line x1="133.5" y1="305.5" x2="133.5" y2="308.5"/><line x1="123.5" y1="306.5" x2="133.5" y2="306.5" stroke="#8a5a5a"/><line x1="118.5" y1="311.5" x2="122.5" y2="311.5" stroke="#8a5a5a"/><line x1="129.5" y1="313.5" x2="129.5" y2="314.5"/><line x1="114.5" y1="314.5" x2="129.5" y2="314.5" stroke="#8a5a5a"/><line x1="121.5" y1="320.5" x2="121.5" y2="321.5"/><line x1="118.5" y1="320.5" x2="121.5" y2="320.5" stroke="#8a5a5a"/><line x1="118.5" y1="320.5" x2="118.5" y2="323.5"/><line x1="113.5" y1="322.5" x2="118.5" y2="322.5" stroke="#8a5a5a"/><line x1="113.5" y1="318.5" x2="113.5" y2="322.5"/><line x1="109.5" y1="320.5" x2="113.5" y2="320.5" stroke="#8a5a5a"/><line x1="109.5" y1="316.5" x2="109.5" y2="320.5"/><line x1="104.5" y1="318.5" x2="109.5" y2="318.5" stroke="#8a5a5a"/><line x1="117.5" y1="325.5" x2="117.5" y2="327.5"/><line x1="116.5" y1="326.5" x2="117.5" y2="326.5" stroke="#8a5a5a"/><line x1="116.5" y1="324.5" x2="116.5" y2="326.5"/><line x1="108.5" y1="325.5" x2="116.5" y2="325.5" stroke="#8a5a5a"/><line x1="108.5" y1="325.5" x2="108.5" y2="328.5"/><line x1="97.5" y1="326.5" x2="108.5" y2="326.5" stroke="#8a5a5a"/><line x1="101.5" y1="330.5" x2="101.5" y2="332.5"/><line x1="97.5" y1="331.5" x2="101.5" y2="331.5" stroke="#8a5a5a"/><line x1="103.5" y1="335.5" x2="103.5" y2="336.5"/><line x1="99.5" y1="336.5" x2="103.5" y2="336.5" stroke="#8a5a5a"/><line x1="99.5" y1="333.5" x2="99.5" y2="336.5"/><line x1="97.5" y1="334.5" x2="99.5" y2="334.5" stroke="#8a5a5a"/><line x1="97.5" y1="331.5" x2="97.5" y2="334.5"/><line x1="94.5" y1="333.5" x2="97.5" y2="333.5" stroke="#8a5a5a"/><line x1="93.5" y1="338.5" x2="93.5" y2="339.5"/><line x1="92.5" y1="338.5" x2="93.5" y2="338.5" stroke="#8a5a5a"/><line x1="84.5" y1="343.5" x2="84.5" y2="345.5"/><line x1="82.5" y1="344.5" x2="84.5" y2="344.5" stroke="#8a5a5a"/><line x1="90.5" y1="355.5" x2="90.5" y2="357.5"/><line x1="85.5" y1="356.5" x2="90.5" y2="356.5" stroke="#8a5a5a"/><line x1="85.5" y1="353.5" x2="85.5" y2="356.5"/><line x1="81.5" y1="354.5" x2="85.5" y2="354.5" stroke="#8a5a5a"/><line x1="87.5" y1="361.5" x2="87.5" y2="363.5"/><line x1="85.5" y1="362.5" x2="87.5" y2="362.5" stroke="#8a5a5a"/><line x1="117.5" y1="365.5" x2="117.5" y2="367.5"/><line x1="116.5" y1="366.5" x2="117.5" y2="366.5" stroke="#8a5a5a"/><line x1="116.5" y1="366.5" x2="116.5" y2="369.5"/><line x1="110.5" y1="368.5" x2="116.5" y2="368.5" stroke="#8a5a5a"/><line x1="120.5" y1="373.5" x2="120.5" y2="375.5"/><line x1="114.5" y1="374.5" x2="120.5" y2="374.5" stroke="#8a5a5a"/><line x1="114.5" y1="371.5" x2="114.5" y2="374.5"/><line x1="112.5" y1="372.5" x2="114.5" y2="372.5" stroke="#8a5a5a"/><line x1="112.5" y1="372.5" x2="112.5" y2="377.5"/><line x1="97.5" y1="375.5" x2="112.5" y2="375.5" stroke="#8a5a5a"/><line x1="110.5" y1="381.5" x2="110.5" y2="383.5"/><line x1="103.5" y1="382.5" x2="110.5" y2="382.5" stroke="#8a5a5a"/><line x1="103.5" y1="379.5" x2="103.5" y2="382.5"/><line x1="98.5" y1="380.5" x2="103.5" y2="380.5" stroke="#8a5a5a"/><line x1="101.5" y1="391.5" x2="101.5" y2="393.5"/><line x1="94.5" y1="392.5" x2="101.5" y2="392.5" stroke="#8a5a5a"/><line x1="108.5" y1="399.5" x2="108.5" y2="400.5"/><line x1="102.5" y1="400.5" x2="108.5" y2="400.5" stroke="#8a5a5a"/><line x1="102.5" y1="400.5" x2="102.5" y2="402.5"/><line x1="94.5" y1="401.5" x2="102.5" y2="401.5" stroke="#8a5a5a"/><line x1="91.5" y1="410.5" x2="91.5" y2="412.5"/><line x1="88.5" y1="411.5" x2="91.5" y2="411.5" stroke="#8a5a5a"/><line x1="96.5" y1="415.5" x2="96.5" y2="417.5"/><line x1="88.5" y1="416.5" x2="96.5" y2="416.5" stroke="#8a5a5a"/><line x1="94.5" y1="421.5" x2="94.5" y2="423.5"/><line x1="92.5" y1="422.5" x2="94.5" y2="422.5" stroke="#8a5a5a"/><line x1="92.5" y1="419.5" x2="92.5" y2="422.5"/><line x1="89.5" y1="420.5" x2="92.5" y2="420.5" stroke="#8a5a5a"/><line x1="92.5" y1="425.5" x2="92.5" y2="427.5"/><line x1="90.5" y1="426.5" x2="92.5" y2="426.5" stroke="#8a5a5a"/><line x1="109.5" y1="433.5" x2="109.5" y2="435.5"/><line x1="106.5" y1="434.5" x2="109.5" y2="434.5" stroke="#8a5a5a"/><line x1="106.5" y1="434.5" x2="106.5" y2="437.5"/><line x1="104.5" y1="436.5" x2="106.5" y2="436.5" stroke="#8a5a5a"/><line x1="104.5" y1="431.5" x2="104.5" y2="436.5"/><line x1="100.5" y1="433.5" x2="104.5" y2="433.5" stroke="#8a5a5a"/><line x1="100.5" y1="433.5" x2="100.5" y2="439.5"/><line x1="92.5" y1="436.5" x2="100.5" y2="436.5" stroke="#8a5a5a"/><line x1="91.5" y1="441.5" x2="91.5" y2="443.5"/><line x1="89.5" y1="442.5" x2="91.5" y2="442.5" stroke="#8a5a5a"/><line x1="104.5" y1="445.5" x2="104.5" y2="447.5"/><line x1="99.5" y1="446.5" x2="104.5" y2="446.5" stroke="#8a5a5a"/><line x1="99.5" y1="446.5" x2="99.5" y2="448.5"/><line x1="97.5" y1="447.5" x2="99.5" y2="447.5" stroke="#8a5a5a"/><line x1="110.5" y1="454.5" x2="110.5" y2="456.5"/><line x1="102.5" y1="455.5" x2="110.5" y2="455.5" stroke="#8a5a5a"/><line x1="102.5" y1="455.5" x2="102.5" y2="457.5"/><line x1="97.5" y1="456.5" x2="102.5" y2="456.5" stroke="#8a5a5a"/><line x1="97.5" y1="456.5" x2="97.5" y2="459.5"/><line x1="96.5" y1="458.5" x2="97.5" y2="458.5" stroke="#8a5a5a"/><line x1="99.5" y1="461.5" x2="99.5" y2="462.5"/><line x1="91.5" y1="462.5" x2="99.5" y2="462.5" stroke="#8a5a5a"/><line x1="96.5" y1="464.5" x2="96.5" y2="465.5"/><line x1="90.5" y1="464.5" x2="96.5" y2="464.5" stroke="#8a5a5a"/><line x1="90.5" y1="467.5" x2="90.5" y2="469.5"/><line x1="88.5" y1="468.5" x2="90.5" y2="468.5" stroke="#8a5a5a"/><line x1="102.5" y1="471.5" x2="102.5" y2="473.5"/><line x1="100.5" y1="472.5" x2="102.5" y2="472.5" stroke="#8a5a5a"/><line x1="100.5" y1="472.5" x2="100.5" y2="475.5"/><line x1="97.5" y1="474.5" x2="100.5" y2="474.5" stroke="#8a5a5a"/><line x1="97.5" y1="474.5" x2="97.5" y2="477.5"/><line x1="91.5" y1="475.5" x2="97.5" y2="475.5" stroke="#8a5a5a"/><line x1="100.5" y1="478.5" x2="100.5" y2="480.5"/><line x1="97.5" y1="479.5" x2="100.5" y2="479.5" stroke="#8a5a5a"/><line x1="109.5" y1="490.5" x2="109.5" y2="492.5"/><line x1="102.5" y1="491.5" x2="109.5" y2="491.5" stroke="#8a5a5a"/><line x1="102.5" y1="491.5" x2="102.5" y2="493.5"/><line x1="97.5" y1="492.5" x2="102.5" y2="492.5" stroke="#8a5a5a"/><line x1="97.5" y1="492.5" x2="97.5" y2="494.5"/><line x1="91.5" y1="493.5" x2="97.5" y2="493.5" stroke="#8a5a5a"/><line x1="101.5" y1="500.5" x2="101.5" y2="502.5"/><line x1="98.5" y1="501.5" x2="101.5" y2="501.5" stroke="#8a5a5a"/><line x1="98.5" y1="501.5" x2="98.5" y2="504.5"/><line x1="96.5" y1="502.5" x2="98.5" y2="502.5" stroke="#8a5a5a"/><line x1="96.5" y1="498.5" x2="96.5" y2="502.5"/><line x1="88.5" y1="500.5" x2="96.5" y2="500.5" stroke="#8a5a5a"/><line x1="102.5" y1="510.5" x2="102.5" y2="512.5"/><line x1="99.5" y1="511.5" x2="102.5" y2="511.5" stroke="#8a5a5a"/><line x1="103.5" y1="514.5" x2="103.5" y2="515.5"/><line x1="99.5" y1="514.5" x2="103.5" y2="514.5" stroke="#8a5a5a"/><line x1="99.5" y1="511.5" x2="99.5" y2="514.5"/><line x1="94.5" y1="513.5" x2="99.5" y2="513.5" stroke="#8a5a5a"/><line x1="94.5" y1="508.5" x2="94.5" y2="513.5"/><line x1="90.5" y1="510.5" x2="94.5" y2="510.5" stroke="#8a5a5a"/><line x1="93.5" y1="518.5" x2="93.5" y2="520.5"/><line x1="90.5" y1="519.5" x2="93.5" y2="519.5" stroke="#8a5a5a"/><line x1="90.5" y1="517.5" x2="90.5" y2="519.5"/><line x1="88.5" y1="518.5" x2="90.5" y2="518.5" stroke="#8a5a5a"/><line x1="101.5" y1="525.5" x2="101.5" y2="527.5"/><line x1="95.5" y1="526.5" x2="101.5" y2="526.5" stroke="#8a5a5a"/><line x1="95.5" y1="526.5" x2="95.5" y2="528.5"/><line x1="93.5" y1="527.5" x2="95.5" y2="527.5" stroke="#8a5a5a"/><line x1="93.5" y1="527.5" x2="93.5" y2="529.5"/><line x1="88.5" y1="528.5" x2="93.5" y2="528.5" stroke="#8a5a5a"/><line x1="88.5" y1="524.5" x2="88.5" y2="528.5"/><line x1="87.5" y1="526.5" x2="88.5" y2="526.5" stroke="#8a5a5a"/><line x1="94.5" y1="531.5" x2="94.5" y2="532.5"/><line x1="87.5" y1="532.5" x2="94.5" y2="532.5" stroke="#8a5a5a"/><line x1="92.5" y1="533.5" x2="92.5" y2="535.5"/><line x1="86.5" y1="534.5" x2="92.5" y2="534.5" stroke="#8a5a5a"/></g><g stroke="#74383c" stroke-width="1" fill="none" shape-rendering="crispEdges"><line x1="137.5" y1="10.5" x2="137.5" y2="12.5"/><line x1="137.5" y1="10.5" x2="139.5" y2="10.5"/><line x1="135.5" y1="12.5" x2="135.5" y2="15.5"/><line x1="135.5" y1="12.5" x2="137.5" y2="12.5"/><line x1="133.5" y1="15.5" x2="133.5" y2="18.5"/><line x1="133.5" y1="15.5" x2="136.5" y2="15.5"/><line x1="131.5" y1="18.5" x2="131.5" y2="20.5"/><line x1="131.5" y1="18.5" x2="134.5" y2="18.5"/><line x1="128.5" y1="20.5" x2="128.5" y2="23.5"/><line x1="128.5" y1="20.5" x2="131.5" y2="20.5"/><line x1="126.5" y1="23.5" x2="126.5" y2="26.5"/><line x1="126.5" y1="23.5" x2="129.5" y2="23.5"/><line x1="116.5" y1="26.5" x2="116.5" y2="28.5"/><line x1="116.5" y1="26.5" x2="126.5" y2="26.5"/><line x1="114.5" y1="28.5" x2="114.5" y2="31.5"/><line x1="114.5" y1="28.5" x2="117.5" y2="28.5"/><line x1="111.5" y1="31.5" x2="111.5" y2="34.5"/><line x1="111.5" y1="31.5" x2="115.5" y2="31.5"/><line x1="108.5" y1="34.5" x2="108.5" y2="36.5"/><line x1="108.5" y1="34.5" x2="112.5" y2="34.5"/><line x1="106.5" y1="36.5" x2="106.5" y2="38.5"/><line x1="106.5" y1="36.5" x2="109.5" y2="36.5"/><line x1="105.5" y1="38.5" x2="105.5" y2="41.5"/><line x1="105.5" y1="38.5" x2="106.5" y2="38.5"/><line x1="105.5" y1="41.5" x2="105.5" y2="44.5"/><line x1="105.5" y1="44.5" x2="108.5" y2="44.5"/><line x1="145.5" y1="45.5" x2="145.5" y2="47.5"/><line x1="145.5" y1="45.5" x2="155.5" y2="45.5"/><line x1="139.5" y1="47.5" x2="139.5" y2="50.5"/><line x1="139.5" y1="47.5" x2="146.5" y2="47.5"/><line x1="132.5" y1="50.5" x2="132.5" y2="52.5"/><line x1="132.5" y1="50.5" x2="140.5" y2="50.5"/><line x1="124.5" y1="52.5" x2="124.5" y2="54.5"/><line x1="124.5" y1="52.5" x2="133.5" y2="52.5"/><line x1="122.5" y1="54.5" x2="122.5" y2="57.5"/><line x1="122.5" y1="54.5" x2="124.5" y2="54.5"/><line x1="120.5" y1="57.5" x2="120.5" y2="59.5"/><line x1="120.5" y1="57.5" x2="123.5" y2="57.5"/><line x1="118.5" y1="59.5" x2="118.5" y2="62.5"/><line x1="118.5" y1="59.5" x2="120.5" y2="59.5"/><line x1="117.5" y1="62.5" x2="117.5" y2="66.5"/><line x1="117.5" y1="62.5" x2="118.5" y2="62.5"/><line x1="117.5" y1="66.5" x2="117.5" y2="68.5"/><line x1="117.5" y1="68.5" x2="119.5" y2="68.5"/><line x1="118.5" y1="68.5" x2="118.5" y2="72.5"/><line x1="118.5" y1="72.5" x2="121.5" y2="72.5"/><line x1="140.5" y1="74.5" x2="140.5" y2="76.5"/><line x1="140.5" y1="74.5" x2="144.5" y2="74.5"/><line x1="128.5" y1="76.5" x2="128.5" y2="80.5"/><line x1="128.5" y1="76.5" x2="141.5" y2="76.5"/><line x1="122.5" y1="80.5" x2="122.5" y2="84.5"/><line x1="122.5" y1="80.5" x2="129.5" y2="80.5"/><line x1="120.5" y1="84.5" x2="120.5" y2="87.5"/><line x1="120.5" y1="84.5" x2="123.5" y2="84.5"/><line x1="116.5" y1="87.5" x2="116.5" y2="90.5"/><line x1="116.5" y1="87.5" x2="120.5" y2="87.5"/><line x1="115.5" y1="90.5" x2="115.5" y2="94.5"/><line x1="115.5" y1="90.5" x2="117.5" y2="90.5"/><line x1="110.5" y1="94.5" x2="110.5" y2="97.5"/><line x1="110.5" y1="94.5" x2="115.5" y2="94.5"/><line x1="110.5" y1="97.5" x2="110.5" y2="99.5"/><line x1="110.5" y1="99.5" x2="114.5" y2="99.5"/><line x1="113.5" y1="99.5" x2="113.5" y2="102.5"/><line x1="113.5" y1="102.5" x2="118.5" y2="102.5"/><line x1="113.5" y1="102.5" x2="113.5" y2="104.5"/><line x1="113.5" y1="102.5" x2="118.5" y2="102.5"/><line x1="112.5" y1="105.5" x2="112.5" y2="107.5"/><line x1="112.5" y1="105.5" x2="116.5" y2="105.5"/><line x1="110.5" y1="107.5" x2="110.5" y2="109.5"/><line x1="110.5" y1="107.5" x2="113.5" y2="107.5"/><line x1="110.5" y1="109.5" x2="110.5" y2="112.5"/><line x1="110.5" y1="112.5" x2="112.5" y2="112.5"/><line x1="109.5" y1="112.5" x2="109.5" y2="113.5"/><line x1="109.5" y1="112.5" x2="112.5" y2="112.5"/><line x1="109.5" y1="114.5" x2="109.5" y2="118.5"/><line x1="109.5" y1="118.5" x2="112.5" y2="118.5"/><line x1="109.5" y1="118.5" x2="109.5" y2="121.5"/><line x1="109.5" y1="118.5" x2="112.5" y2="118.5"/><line x1="105.5" y1="121.5" x2="105.5" y2="124.5"/><line x1="105.5" y1="121.5" x2="110.5" y2="121.5"/><line x1="102.5" y1="124.5" x2="102.5" y2="126.5"/><line x1="102.5" y1="124.5" x2="106.5" y2="124.5"/><line x1="100.5" y1="126.5" x2="100.5" y2="128.5"/><line x1="100.5" y1="126.5" x2="102.5" y2="126.5"/><line x1="123.5" y1="129.5" x2="123.5" y2="131.5"/><line x1="123.5" y1="129.5" x2="128.5" y2="129.5"/><line x1="120.5" y1="131.5" x2="120.5" y2="133.5"/><line x1="120.5" y1="131.5" x2="124.5" y2="131.5"/><line x1="116.5" y1="133.5" x2="116.5" y2="137.5"/><line x1="116.5" y1="133.5" x2="120.5" y2="133.5"/><line x1="113.5" y1="137.5" x2="113.5" y2="140.5"/><line x1="113.5" y1="137.5" x2="117.5" y2="137.5"/><line x1="108.5" y1="140.5" x2="108.5" y2="142.5"/><line x1="108.5" y1="140.5" x2="114.5" y2="140.5"/><line x1="101.5" y1="142.5" x2="101.5" y2="144.5"/><line x1="101.5" y1="142.5" x2="109.5" y2="142.5"/><line x1="98.5" y1="144.5" x2="98.5" y2="146.5"/><line x1="98.5" y1="144.5" x2="102.5" y2="144.5"/><line x1="97.5" y1="148.5" x2="97.5" y2="150.5"/><line x1="97.5" y1="148.5" x2="98.5" y2="148.5"/><line x1="95.5" y1="150.5" x2="95.5" y2="154.5"/><line x1="95.5" y1="150.5" x2="97.5" y2="150.5"/><line x1="93.5" y1="154.5" x2="93.5" y2="159.5"/><line x1="93.5" y1="154.5" x2="96.5" y2="154.5"/><line x1="93.5" y1="159.5" x2="93.5" y2="164.5"/><line x1="93.5" y1="164.5" x2="95.5" y2="164.5"/><line x1="94.5" y1="164.5" x2="94.5" y2="169.5"/><line x1="94.5" y1="169.5" x2="96.5" y2="169.5"/><line x1="95.5" y1="169.5" x2="95.5" y2="174.5"/><line x1="95.5" y1="174.5" x2="100.5" y2="174.5"/><line x1="96.5" y1="176.5" x2="96.5" y2="178.5"/><line x1="96.5" y1="176.5" x2="105.5" y2="176.5"/><line x1="94.5" y1="178.5" x2="94.5" y2="180.5"/><line x1="94.5" y1="178.5" x2="96.5" y2="178.5"/><line x1="94.5" y1="180.5" x2="94.5" y2="184.5"/><line x1="94.5" y1="184.5" x2="96.5" y2="184.5"/><line x1="96.5" y1="184.5" x2="96.5" y2="188.5"/><line x1="96.5" y1="188.5" x2="98.5" y2="188.5"/><line x1="135.5" y1="189.5" x2="135.5" y2="192.5"/><line x1="135.5" y1="189.5" x2="138.5" y2="189.5"/><line x1="134.5" y1="192.5" x2="134.5" y2="196.5"/><line x1="134.5" y1="192.5" x2="136.5" y2="192.5"/><line x1="131.5" y1="196.5" x2="131.5" y2="200.5"/><line x1="131.5" y1="196.5" x2="134.5" y2="196.5"/><line x1="123.5" y1="200.5" x2="123.5" y2="202.5"/><line x1="123.5" y1="200.5" x2="131.5" y2="200.5"/><line x1="120.5" y1="202.5" x2="120.5" y2="206.5"/><line x1="120.5" y1="202.5" x2="123.5" y2="202.5"/><line x1="117.5" y1="206.5" x2="117.5" y2="210.5"/><line x1="117.5" y1="206.5" x2="120.5" y2="206.5"/><line x1="115.5" y1="210.5" x2="115.5" y2="214.5"/><line x1="115.5" y1="210.5" x2="118.5" y2="210.5"/><line x1="112.5" y1="214.5" x2="112.5" y2="218.5"/><line x1="112.5" y1="214.5" x2="115.5" y2="214.5"/><line x1="110.5" y1="218.5" x2="110.5" y2="221.5"/><line x1="110.5" y1="218.5" x2="113.5" y2="218.5"/><line x1="108.5" y1="221.5" x2="108.5" y2="227.5"/><line x1="108.5" y1="221.5" x2="110.5" y2="221.5"/><line x1="108.5" y1="227.5" x2="108.5" y2="230.5"/><line x1="108.5" y1="230.5" x2="108.5" y2="230.5"/><line x1="108.5" y1="230.5" x2="108.5" y2="236.5"/><line x1="108.5" y1="236.5" x2="110.5" y2="236.5"/><line x1="103.5" y1="236.5" x2="103.5" y2="238.5"/><line x1="103.5" y1="236.5" x2="110.5" y2="236.5"/><line x1="103.5" y1="238.5" x2="103.5" y2="241.5"/><line x1="103.5" y1="241.5" x2="115.5" y2="241.5"/><line x1="112.5" y1="241.5" x2="112.5" y2="245.5"/><line x1="112.5" y1="241.5" x2="115.5" y2="241.5"/><line x1="109.5" y1="245.5" x2="109.5" y2="248.5"/><line x1="109.5" y1="245.5" x2="113.5" y2="245.5"/><line x1="97.5" y1="248.5" x2="97.5" y2="250.5"/><line x1="97.5" y1="248.5" x2="110.5" y2="248.5"/><line x1="98.5" y1="252.5" x2="98.5" y2="254.5"/><line x1="98.5" y1="254.5" x2="100.5" y2="254.5"/><line x1="98.5" y1="254.5" x2="98.5" y2="258.5"/><line x1="98.5" y1="254.5" x2="100.5" y2="254.5"/><line x1="98.5" y1="258.5" x2="98.5" y2="260.5"/><line x1="98.5" y1="260.5" x2="100.5" y2="260.5"/><line x1="100.5" y1="260.5" x2="100.5" y2="264.5"/><line x1="100.5" y1="264.5" x2="102.5" y2="264.5"/><line x1="121.5" y1="264.5" x2="121.5" y2="267.5"/><line x1="121.5" y1="264.5" x2="124.5" y2="264.5"/><line x1="117.5" y1="267.5" x2="117.5" y2="270.5"/><line x1="117.5" y1="267.5" x2="122.5" y2="267.5"/><line x1="115.5" y1="270.5" x2="115.5" y2="274.5"/><line x1="115.5" y1="270.5" x2="117.5" y2="270.5"/><line x1="112.5" y1="274.5" x2="112.5" y2="279.5"/><line x1="112.5" y1="274.5" x2="115.5" y2="274.5"/><line x1="112.5" y1="279.5" x2="112.5" y2="282.5"/><line x1="112.5" y1="282.5" x2="113.5" y2="282.5"/><line x1="107.5" y1="282.5" x2="107.5" y2="285.5"/><line x1="107.5" y1="282.5" x2="113.5" y2="282.5"/><line x1="105.5" y1="285.5" x2="105.5" y2="288.5"/><line x1="105.5" y1="285.5" x2="108.5" y2="285.5"/><line x1="103.5" y1="288.5" x2="103.5" y2="290.5"/><line x1="103.5" y1="288.5" x2="105.5" y2="288.5"/><line x1="103.5" y1="290.5" x2="103.5" y2="293.5"/><line x1="103.5" y1="293.5" x2="104.5" y2="293.5"/><line x1="132.5" y1="296.5" x2="132.5" y2="298.5"/><line x1="132.5" y1="296.5" x2="147.5" y2="296.5"/><line x1="130.5" y1="298.5" x2="130.5" y2="301.5"/><line x1="130.5" y1="298.5" x2="133.5" y2="298.5"/><line x1="127.5" y1="301.5" x2="127.5" y2="305.5"/><line x1="127.5" y1="301.5" x2="131.5" y2="301.5"/><line x1="121.5" y1="305.5" x2="121.5" y2="308.5"/><line x1="121.5" y1="305.5" x2="127.5" y2="305.5"/><line x1="117.5" y1="308.5" x2="117.5" y2="311.5"/><line x1="117.5" y1="308.5" x2="122.5" y2="308.5"/><line x1="112.5" y1="311.5" x2="112.5" y2="314.5"/><line x1="112.5" y1="311.5" x2="117.5" y2="311.5"/><line x1="108.5" y1="314.5" x2="108.5" y2="318.5"/><line x1="108.5" y1="314.5" x2="113.5" y2="314.5"/><line x1="103.5" y1="318.5" x2="103.5" y2="320.5"/><line x1="103.5" y1="318.5" x2="109.5" y2="318.5"/><line x1="96.5" y1="322.5" x2="96.5" y2="328.5"/><line x1="96.5" y1="322.5" x2="99.5" y2="322.5"/><line x1="94.5" y1="328.5" x2="94.5" y2="332.5"/><line x1="94.5" y1="328.5" x2="96.5" y2="328.5"/><line x1="93.5" y1="332.5" x2="93.5" y2="336.5"/><line x1="93.5" y1="332.5" x2="94.5" y2="332.5"/><line x1="92.5" y1="336.5" x2="92.5" y2="340.5"/><line x1="92.5" y1="336.5" x2="93.5" y2="336.5"/><line x1="79.5" y1="341.5" x2="79.5" y2="344.5"/><line x1="79.5" y1="344.5" x2="82.5" y2="344.5"/><line x1="82.5" y1="344.5" x2="82.5" y2="346.5"/><line x1="82.5" y1="346.5" x2="84.5" y2="346.5"/><line x1="84.5" y1="346.5" x2="84.5" y2="348.5"/><line x1="84.5" y1="348.5" x2="86.5" y2="348.5"/><line x1="86.5" y1="348.5" x2="86.5" y2="352.5"/><line x1="86.5" y1="352.5" x2="92.5" y2="352.5"/><line x1="80.5" y1="352.5" x2="80.5" y2="355.5"/><line x1="80.5" y1="352.5" x2="92.5" y2="352.5"/><line x1="80.5" y1="355.5" x2="80.5" y2="358.5"/><line x1="80.5" y1="358.5" x2="84.5" y2="358.5"/><line x1="84.5" y1="358.5" x2="84.5" y2="362.5"/><line x1="84.5" y1="362.5" x2="86.5" y2="362.5"/><line x1="77.5" y1="362.5" x2="77.5" y2="365.5"/><line x1="77.5" y1="362.5" x2="86.5" y2="362.5"/><line x1="107.5" y1="367.5" x2="107.5" y2="368.5"/><line x1="107.5" y1="367.5" x2="110.5" y2="367.5"/><line x1="100.5" y1="368.5" x2="100.5" y2="370.5"/><line x1="100.5" y1="368.5" x2="107.5" y2="368.5"/><line x1="97.5" y1="370.5" x2="97.5" y2="374.5"/><line x1="97.5" y1="370.5" x2="101.5" y2="370.5"/><line x1="96.5" y1="374.5" x2="96.5" y2="377.5"/><line x1="96.5" y1="374.5" x2="98.5" y2="374.5"/><line x1="96.5" y1="377.5" x2="96.5" y2="380.5"/><line x1="96.5" y1="380.5" x2="98.5" y2="380.5"/><line x1="97.5" y1="380.5" x2="97.5" y2="384.5"/><line x1="97.5" y1="384.5" x2="101.5" y2="384.5"/><line x1="97.5" y1="384.5" x2="97.5" y2="387.5"/><line x1="97.5" y1="384.5" x2="101.5" y2="384.5"/><line x1="94.5" y1="387.5" x2="94.5" y2="390.5"/><line x1="94.5" y1="387.5" x2="98.5" y2="387.5"/><line x1="93.5" y1="390.5" x2="93.5" y2="393.5"/><line x1="93.5" y1="390.5" x2="94.5" y2="390.5"/><line x1="90.5" y1="393.5" x2="90.5" y2="399.5"/><line x1="90.5" y1="393.5" x2="93.5" y2="393.5"/><line x1="90.5" y1="399.5" x2="90.5" y2="401.5"/><line x1="90.5" y1="401.5" x2="95.5" y2="401.5"/><line x1="89.5" y1="401.5" x2="89.5" y2="406.5"/><line x1="89.5" y1="401.5" x2="95.5" y2="401.5"/><line x1="88.5" y1="406.5" x2="88.5" y2="410.5"/><line x1="88.5" y1="406.5" x2="90.5" y2="406.5"/><line x1="87.5" y1="410.5" x2="87.5" y2="414.5"/><line x1="87.5" y1="410.5" x2="89.5" y2="410.5"/><line x1="87.5" y1="414.5" x2="87.5" y2="419.5"/><line x1="87.5" y1="419.5" x2="89.5" y2="419.5"/><line x1="88.5" y1="419.5" x2="88.5" y2="423.5"/><line x1="88.5" y1="423.5" x2="89.5" y2="423.5"/><line x1="88.5" y1="423.5" x2="88.5" y2="427.5"/><line x1="88.5" y1="427.5" x2="90.5" y2="427.5"/><line x1="94.5" y1="428.5" x2="94.5" y2="432.5"/><line x1="94.5" y1="428.5" x2="95.5" y2="428.5"/><line x1="92.5" y1="432.5" x2="92.5" y2="436.5"/><line x1="92.5" y1="432.5" x2="94.5" y2="432.5"/><line x1="90.5" y1="436.5" x2="90.5" y2="439.5"/><line x1="90.5" y1="436.5" x2="92.5" y2="436.5"/><line x1="88.5" y1="439.5" x2="88.5" y2="442.5"/><line x1="88.5" y1="439.5" x2="91.5" y2="439.5"/><line x1="87.5" y1="442.5" x2="87.5" y2="445.5"/><line x1="87.5" y1="442.5" x2="89.5" y2="442.5"/><line x1="87.5" y1="445.5" x2="87.5" y2="449.5"/><line x1="87.5" y1="449.5" x2="108.5" y2="449.5"/><line x1="100.5" y1="449.5" x2="100.5" y2="452.5"/><line x1="100.5" y1="449.5" x2="108.5" y2="449.5"/><line x1="97.5" y1="452.5" x2="97.5" y2="455.5"/><line x1="97.5" y1="452.5" x2="101.5" y2="452.5"/><line x1="93.5" y1="455.5" x2="93.5" y2="459.5"/><line x1="93.5" y1="455.5" x2="98.5" y2="455.5"/><line x1="89.5" y1="459.5" x2="89.5" y2="464.5"/><line x1="89.5" y1="459.5" x2="93.5" y2="459.5"/><line x1="87.5" y1="464.5" x2="87.5" y2="468.5"/><line x1="87.5" y1="464.5" x2="90.5" y2="464.5"/><line x1="87.5" y1="468.5" x2="87.5" y2="473.5"/><line x1="87.5" y1="473.5" x2="90.5" y2="473.5"/><line x1="89.5" y1="473.5" x2="89.5" y2="477.5"/><line x1="89.5" y1="477.5" x2="93.5" y2="477.5"/><line x1="93.5" y1="477.5" x2="93.5" y2="481.5"/><line x1="93.5" y1="481.5" x2="101.5" y2="481.5"/><line x1="97.5" y1="481.5" x2="97.5" y2="483.5"/><line x1="97.5" y1="481.5" x2="101.5" y2="481.5"/><line x1="97.5" y1="483.5" x2="97.5" y2="486.5"/><line x1="97.5" y1="486.5" x2="101.5" y2="486.5"/><line x1="85.5" y1="486.5" x2="85.5" y2="489.5"/><line x1="85.5" y1="486.5" x2="101.5" y2="486.5"/><line x1="90.5" y1="490.5" x2="90.5" y2="493.5"/><line x1="90.5" y1="493.5" x2="91.5" y2="493.5"/><line x1="88.5" y1="493.5" x2="88.5" y2="497.5"/><line x1="88.5" y1="493.5" x2="91.5" y2="493.5"/><line x1="87.5" y1="497.5" x2="87.5" y2="502.5"/><line x1="87.5" y1="497.5" x2="89.5" y2="497.5"/><line x1="87.5" y1="502.5" x2="87.5" y2="506.5"/><line x1="87.5" y1="506.5" x2="89.5" y2="506.5"/><line x1="88.5" y1="506.5" x2="88.5" y2="510.5"/><line x1="88.5" y1="510.5" x2="91.5" y2="510.5"/><line x1="89.5" y1="510.5" x2="89.5" y2="514.5"/><line x1="89.5" y1="510.5" x2="91.5" y2="510.5"/><line x1="87.5" y1="514.5" x2="87.5" y2="520.5"/><line x1="87.5" y1="514.5" x2="90.5" y2="514.5"/><line x1="86.5" y1="520.5" x2="86.5" y2="524.5"/><line x1="86.5" y1="520.5" x2="88.5" y2="520.5"/><line x1="86.5" y1="524.5" x2="86.5" y2="530.5"/><line x1="86.5" y1="530.5" x2="88.5" y2="530.5"/><line x1="85.5" y1="530.5" x2="85.5" y2="534.5"/><line x1="85.5" y1="530.5" x2="88.5" y2="530.5"/><line x1="85.5" y1="534.5" x2="85.5" y2="536.5"/><line x1="85.5" y1="536.5" x2="88.5" y2="536.5"/><line x1="104.5" y1="39.4" x2="104.5" y2="112.6"/><line x1="104.2" y1="39.5" x2="107.0" y2="39.5"/><line x1="104.2" y1="66.5" x2="117.7" y2="66.5"/><line x1="104.2" y1="97.5" x2="110.9" y2="97.5"/><line x1="104.2" y1="112.5" x2="111.9" y2="112.5"/><line x1="97.5" y1="79.5" x2="104.2" y2="79.5"/><line x1="97.5" y1="79.2" x2="97.5" y2="127.0"/><line x1="96.5" y1="95.0" x2="96.5" y2="118.0"/><line x1="94.5" y1="115.4" x2="94.5" y2="125.3"/><line x1="91.6" y1="120.5" x2="94.3" y2="120.5"/><line x1="91.5" y1="120.3" x2="91.5" y2="178.2"/><line x1="85.1" y1="178.5" x2="91.6" y2="178.5"/><line x1="91.5" y1="178.2" x2="91.5" y2="188.5"/><line x1="85.5" y1="178.2" x2="85.5" y2="315.0"/><line x1="80.5" y1="246.5" x2="85.1" y2="246.5"/><line x1="89.5" y1="252.0" x2="89.5" y2="315.0"/><line x1="85.1" y1="314.5" x2="89.3" y2="314.5"/><line x1="92.5" y1="252.3" x2="92.5" y2="264.0"/><line x1="89.3" y1="258.5" x2="92.4" y2="258.5"/><line x1="92.4" y1="252.5" x2="97.6" y2="252.5"/><line x1="80.5" y1="246.8" x2="80.5" y2="346.6"/><line x1="76.9" y1="294.5" x2="80.5" y2="294.5"/><line x1="76.5" y1="295.0" x2="76.5" y2="356.8"/><line x1="73.3" y1="321.5" x2="76.9" y2="321.5"/><line x1="73.5" y1="321.2" x2="73.5" y2="366.0"/><line x1="70.5" y1="340.5" x2="73.3" y2="340.5"/><line x1="70.5" y1="340.2" x2="70.5" y2="525.3"/><line x1="54.0" y1="432.5" x2="70.5" y2="432.5"/><line x1="54.5" y1="432.5" x2="54.5" y2="485.5"/><line x1="47.6" y1="485.5" x2="54.0" y2="485.5"/><line x1="47.5" y1="485.5" x2="47.5" y2="511.6"/><line x1="31.0" y1="511.5" x2="47.6" y2="511.5"/><line x1="30.5" y1="511.6" x2="30.5" y2="539.4"/><line x1="8.0" y1="525.5" x2="31.0" y2="525.5"/><line x1="8.5" y1="525.6" x2="8.5" y2="533.4"/><line x1="1.5" y1="533.5" x2="8.0" y2="533.5"/><line x1="70.5" y1="525.5" x2="76.3" y2="525.5"/><line x1="76.5" y1="513.7" x2="76.5" y2="525.3"/><line x1="76.3" y1="513.5" x2="79.7" y2="513.5"/><line x1="79.5" y1="494.6" x2="79.5" y2="535.5"/><line x1="81.5" y1="399.0" x2="81.5" y2="522.0"/><line x1="83.5" y1="399.0" x2="83.5" y2="491.8"/><line x1="81.2" y1="398.5" x2="91.0" y2="398.5"/><line x1="101.5" y1="290.8" x2="101.5" y2="320.0"/><line x1="101.8" y1="305.5" x2="104.0" y2="305.5"/><line x1="93.5" y1="306.0" x2="93.5" y2="322.0"/><line x1="89.3" y1="322.5" x2="93.3" y2="322.5"/><line x1="89.5" y1="315.0" x2="89.5" y2="345.0"/><line x1="80.5" y1="346.5" x2="82.6" y2="346.5"/><line x1="82.5" y1="341.0" x2="82.5" y2="366.0"/><line x1="76.9" y1="356.5" x2="82.6" y2="356.5"/><line x1="73.3" y1="366.5" x2="78.2" y2="366.5"/><line x1="87.5" y1="428.0" x2="87.5" y2="446.0"/><line x1="89.5" y1="446.0" x2="89.5" y2="470.0"/><line x1="83.8" y1="456.5" x2="89.6" y2="456.5"/><line x1="98.5" y1="449.0" x2="98.5" y2="459.0"/><line x1="88.5" y1="478.0" x2="88.5" y2="490.0"/><line x1="97.5" y1="477.0" x2="97.5" y2="486.0"/><line x1="83.8" y1="484.5" x2="88.6" y2="484.5"/><line x1="86.5" y1="520.0" x2="86.5" y2="536.0"/><line x1="79.7" y1="533.5" x2="86.3" y2="533.5"/><line x1="86.5" y1="500.0" x2="86.5" y2="530.0"/><line x1="81.2" y1="510.5" x2="86.0" y2="510.5"/><line x1="86.5" y1="410.0" x2="86.5" y2="428.0"/><line x1="83.8" y1="420.5" x2="87.0" y2="420.5"/><line x1="94.5" y1="96.0" x2="94.5" y2="125.0"/><line x1="102.5" y1="238.0" x2="102.5" y2="252.0"/><line x1="104.5" y1="41.5" x2="106.1" y2="41.5"/><line x1="104.5" y1="66.5" x2="117.8" y2="66.5"/><line x1="104.5" y1="97.5" x2="111.0" y2="97.5"/><line x1="97.5" y1="113.5" x2="109.7" y2="113.5"/><line x1="91.5" y1="128.5" x2="101.0" y2="128.5"/><line x1="91.5" y1="146.5" x2="98.7" y2="146.5"/><line x1="91.5" y1="159.5" x2="94.4" y2="159.5"/><line x1="91.5" y1="180.5" x2="95.0" y2="180.5"/><line x1="85.5" y1="250.5" x2="98.4" y2="250.5"/><line x1="92.5" y1="252.5" x2="99.0" y2="252.5"/><line x1="101.5" y1="290.5" x2="103.6" y2="290.5"/><line x1="101.5" y1="320.5" x2="104.0" y2="320.5"/><line x1="89.5" y1="340.5" x2="92.6" y2="340.5"/><line x1="73.5" y1="365.5" x2="78.2" y2="365.5"/><line x1="86.5" y1="414.5" x2="88.1" y2="414.5"/><line x1="83.5" y1="489.5" x2="85.9" y2="489.5"/><line x1="79.5" y1="534.5" x2="86.3" y2="534.5"/></g><line x1="47.5" y1="511.6" x2="47.5" y2="539.5" stroke="#ff3366" stroke-width="1" shape-rendering="crispEdges"/><line x1="8.0" y1="539.5" x2="31.0" y2="539.5" stroke="#ff3366" stroke-width="1" shape-rendering="crispEdges"/><line x1="8.5" y1="533.4" x2="8.5" y2="539.8" stroke="#ff3366" stroke-width="1" shape-rendering="crispEdges"/><line x1="54.5" y1="485.5" x2="54.5" y2="537.6" stroke="#66dd33" stroke-width="1" shape-rendering="crispEdges"/><line x1="54.0" y1="537.5" x2="90.0" y2="537.5" stroke="#66dd33" stroke-width="1" shape-rendering="crispEdges"/><line x1="76.5" y1="525.3" x2="76.5" y2="537.6" stroke="#eeee33" stroke-width="1" shape-rendering="crispEdges"/><line x1="31.0" y1="539.6" x2="130.0" y2="539.6" stroke="#d8104a" stroke-width="1.3"/><line x1="130.0" y1="539.6" x2="179.0" y2="539.6" stroke="#ff5080" stroke-width="1.3"/><circle cx="126.3" cy="26.5" r="1.95" fill="#f20012" stroke="#7a0000" stroke-width="0.5"/><circle cx="117.7" cy="66.0" r="1.95" fill="#f20012" stroke="#7a0000" stroke-width="0.5"/><circle cx="104.0" cy="79.2" r="1.95" fill="#f20012" stroke="#7a0000" stroke-width="0.5"/><circle cx="110.9" cy="97.3" r="1.95" fill="#f20012" stroke="#7a0000" stroke-width="0.5"/><circle cx="109.5" cy="142.5" r="1.95" fill="#f20012" stroke="#7a0000" stroke-width="0.5"/><circle cx="90.6" cy="178.2" r="1.95" fill="#f20012" stroke="#7a0000" stroke-width="0.5"/><circle cx="148.7" cy="198.6" r="1.95" fill="#f20012" stroke="#7a0000" stroke-width="0.5"/><circle cx="141.6" cy="205.9" r="1.95" fill="#f20012" stroke="#7a0000" stroke-width="0.5"/><circle cx="113.0" cy="245.2" r="1.95" fill="#f20012" stroke="#7a0000" stroke-width="0.5"/><circle cx="112.9" cy="279.8" r="1.95" fill="#f20012" stroke="#7a0000" stroke-width="0.5"/><circle cx="101.8" cy="305.5" r="1.95" fill="#f20012" stroke="#7a0000" stroke-width="0.5"/><circle cx="89.3" cy="315.5" r="1.95" fill="#f20012" stroke="#7a0000" stroke-width="0.5"/><circle cx="93.5" cy="321.9" r="1.95" fill="#f20012" stroke="#7a0000" stroke-width="0.5"/><circle cx="82.6" cy="347.0" r="1.95" fill="#f20012" stroke="#7a0000" stroke-width="0.5"/><circle cx="92.7" cy="352.0" r="1.95" fill="#f20012" stroke="#7a0000" stroke-width="0.5"/><circle cx="89.6" cy="363.1" r="1.95" fill="#f20012" stroke="#7a0000" stroke-width="0.5"/><circle cx="91.0" cy="399.4" r="1.95" fill="#f20012" stroke="#7a0000" stroke-width="0.5"/><circle cx="87.6" cy="445.5" r="1.95" fill="#f20012" stroke="#7a0000" stroke-width="0.5"/><circle cx="89.7" cy="456.9" r="1.95" fill="#f20012" stroke="#7a0000" stroke-width="0.5"/><circle cx="98.8" cy="453.8" r="1.95" fill="#f20012" stroke="#7a0000" stroke-width="0.5"/><circle cx="88.6" cy="484.7" r="1.95" fill="#f20012" stroke="#7a0000" stroke-width="0.5"/><circle cx="97.7" cy="483.3" r="1.95" fill="#f20012" stroke="#7a0000" stroke-width="0.5"/><circle cx="86.3" cy="533.4" r="1.95" fill="#f20012" stroke="#7a0000" stroke-width="0.5"/><circle cx="47.6" cy="511.6" r="1.95" fill="#f20012" stroke="#7a0000" stroke-width="0.5"/></svg>
<svg width="409" height="550" viewBox="0 0 409 550" style="font-family:'Liberation Sans',sans-serif"><defs><filter id="bl" x="-5%" y="-40%" width="110%" height="180%"><feGaussianBlur stdDeviation="0.3"/></filter></defs><text x="255.2" y="7.4" font-size="6.7" textLength="116.6" lengthAdjust="spacingAndGlyphs" fill="#000" stroke="#000" stroke-width="0.22" filter="url(#bl)">Country of origin (number of sequences):</text><text x="386" y="7.4" font-size="6.6" textLength="20.7" lengthAdjust="spacingAndGlyphs" fill="#000" stroke="#000" stroke-width="0.22" filter="url(#bl)">Cluster:</text><text x="255.0" y="21.8" font-size="6.1" textLength="118.3" lengthAdjust="spacingAndGlyphs" fill="#000" stroke="#000" stroke-width="0.2" filter="url(#bl)">BW (1), IN (1), MW (2), TZ (2), ZA (14), ZM (1)</text><text x="255.0" y="58.2" font-size="6.1" textLength="94.5" lengthAdjust="spacingAndGlyphs" fill="#000" stroke="#000" stroke-width="0.2" filter="url(#bl)">BR (3), CY (2), DJ (1), ES (1), ET (5),</text><text x="255.0" y="65.2" font-size="6.1" textLength="95.9" lengthAdjust="spacingAndGlyphs" fill="#000" stroke="#000" stroke-width="0.2" filter="url(#bl)">IL (9), KE (1), UG (1), ZA (10), ZM (2)</text><text x="255.0" y="86.6" font-size="6.1" textLength="91.3" lengthAdjust="spacingAndGlyphs" fill="#000" stroke="#000" stroke-width="0.2" filter="url(#bl)">BW (1), ET (5), IL (7), IN (3), KE (1),</text><text x="255.0" y="93.4" font-size="6.1" textLength="98.5" lengthAdjust="spacingAndGlyphs" fill="#000" stroke="#000" stroke-width="0.2" filter="url(#bl)">SN (1), TZ (1), ZA (14), ZM (4), ZW (1)</text><text x="255.0" y="139.3" font-size="6.1" textLength="96.4" lengthAdjust="spacingAndGlyphs" fill="#000" stroke="#000" stroke-width="0.2" filter="url(#bl)">BW (5), IL (1), TZ (1), UG (1), ZA (13)</text><text x="255.0" y="200.3" font-size="6.1" textLength="33.2" lengthAdjust="spacingAndGlyphs" fill="#000" stroke="#000" stroke-width="0.2" filter="url(#bl)">IN (1), ZA (5)</text><text x="255.0" y="208.1" font-size="6.1" textLength="33.5" lengthAdjust="spacingAndGlyphs" fill="#000" stroke="#000" stroke-width="0.2" filter="url(#bl)">IN (3), ZA (3)</text><text x="255.0" y="244.8" font-size="6.1" textLength="96.4" lengthAdjust="spacingAndGlyphs" fill="#000" stroke="#000" stroke-width="0.2" filter="url(#bl)">BW (1), IN (1), KE (1), TZ (2), ZA (13)</text><text x="255.0" y="274.4" font-size="6.1" textLength="77.0" lengthAdjust="spacingAndGlyphs" fill="#000" stroke="#000" stroke-width="0.2" filter="url(#bl)">BR (1), DK (1), IN (1), MW (1),</text><text x="255.0" y="281.4" font-size="6.1" textLength="57.7" lengthAdjust="spacingAndGlyphs" fill="#000" stroke="#000" stroke-width="0.2" filter="url(#bl)">TZ (1), ZA (15), ZM (1)</text><text x="255.0" y="347.7" font-size="6.1" textLength="16.0" lengthAdjust="spacingAndGlyphs" fill="#000" stroke="#000" stroke-width="0.2" filter="url(#bl)">ZA (7)</text><text x="255.0" y="353.3" font-size="6.1" textLength="56.3" lengthAdjust="spacingAndGlyphs" fill="#000" stroke="#000" stroke-width="0.2" filter="url(#bl)">BW (1), ES (1), ZA (5)</text><text x="255.0" y="363.8" font-size="6.1" textLength="37.2" lengthAdjust="spacingAndGlyphs" fill="#000" stroke="#000" stroke-width="0.2" filter="url(#bl)">BW (3), ZA (3)</text><text x="255.0" y="389.1" font-size="6.1" textLength="96.7" lengthAdjust="spacingAndGlyphs" fill="#000" stroke="#000" stroke-width="0.2" filter="url(#bl)">BW (1), IN (4), TZ (1), ZA (37), ZM (4)</text><text x="255.0" y="441.7" font-size="6.1" textLength="81.1" lengthAdjust="spacingAndGlyphs" fill="#000" stroke="#000" stroke-width="0.2" filter="url(#bl)">BW (1), ZA (19), ZM (2), ZW (1)</text><text x="255.0" y="455.7" font-size="6.1" textLength="94.0" lengthAdjust="spacingAndGlyphs" fill="#000" stroke="#000" stroke-width="0.2" filter="url(#bl)">IN (1), MW (1), TZ (1), ZA (8), ZM (1)</text><text x="255.0" y="484.4" font-size="6.1" textLength="57.7" lengthAdjust="spacingAndGlyphs" fill="#000" stroke="#000" stroke-width="0.2" filter="url(#bl)">CY (2), MW (1), ZA (8)</text><text x="255.0" y="534.7" font-size="6.1" textLength="36.7" lengthAdjust="spacingAndGlyphs" fill="#000" stroke="#000" stroke-width="0.2" filter="url(#bl)">ZA (9), ZW (1)</text><text x="397.8" y="22.5" font-size="6.4" font-weight="bold" text-anchor="middle" fill="#000" stroke="#000" stroke-width="0.3" filter="url(#bl)">1</text><text x="397.8" y="61.2" font-size="6.4" font-weight="bold" text-anchor="middle" fill="#000" stroke="#000" stroke-width="0.3" filter="url(#bl)">2</text><text x="397.8" y="90.1" font-size="6.4" font-weight="bold" text-anchor="middle" fill="#000" stroke="#000" stroke-width="0.3" filter="url(#bl)">3</text><text x="397.8" y="139.3" font-size="6.4" font-weight="bold" text-anchor="middle" fill="#000" stroke="#000" stroke-width="0.3" filter="url(#bl)">4</text><text x="397.8" y="200.2" font-size="6.4" font-weight="bold" text-anchor="middle" fill="#000" stroke="#000" stroke-width="0.3" filter="url(#bl)">5</text><text x="397.8" y="208.0" font-size="6.4" font-weight="bold" text-anchor="middle" fill="#000" stroke="#000" stroke-width="0.3" filter="url(#bl)">6</text><text x="397.8" y="245.3" font-size="6.4" font-weight="bold" text-anchor="middle" fill="#000" stroke="#000" stroke-width="0.3" filter="url(#bl)">7</text><text x="397.8" y="278.5" font-size="6.4" font-weight="bold" text-anchor="middle" fill="#000" stroke="#000" stroke-width="0.3" filter="url(#bl)">8</text><text x="397.8" y="348.6" font-size="6.4" font-weight="bold" text-anchor="middle" fill="#000" stroke="#000" stroke-width="0.3" filter="url(#bl)">9</text><text x="397.8" y="353.8" font-size="6.4" font-weight="bold" text-anchor="middle" fill="#000" stroke="#000" stroke-width="0.3" filter="url(#bl)">10</text><text x="397.8" y="364.8" font-size="6.4" font-weight="bold" text-anchor="middle" fill="#000" stroke="#000" stroke-width="0.3" filter="url(#bl)">11</text><text x="397.8" y="389.0" font-size="6.4" font-weight="bold" text-anchor="middle" fill="#000" stroke="#000" stroke-width="0.3" filter="url(#bl)">12</text><text x="397.8" y="440.7" font-size="6.4" font-weight="bold" text-anchor="middle" fill="#000" stroke="#000" stroke-width="0.3" filter="url(#bl)">13</text><text x="397.8" y="455.7" font-size="6.4" font-weight="bold" text-anchor="middle" fill="#000" stroke="#000" stroke-width="0.3" filter="url(#bl)">14</text><text x="397.8" y="484.0" font-size="6.4" font-weight="bold" text-anchor="middle" fill="#000" stroke="#000" stroke-width="0.3" filter="url(#bl)">15</text><text x="397.8" y="534.5" font-size="6.4" font-weight="bold" text-anchor="middle" fill="#000" stroke="#000" stroke-width="0.3" filter="url(#bl)">16</text><rect x="10.6" y="36" width="70.8" height="63" fill="#fff" stroke="#b4b4b4" stroke-width="0.8"/><rect x="10.6" y="105.4" width="71" height="30.8" fill="#fff" stroke="#b4b4b4" stroke-width="0.8"/><text x="17.4" y="45.9" font-size="7.0" textLength="48.2" lengthAdjust="spacingAndGlyphs" fill="#111" stroke="#111" stroke-width="0.16" filter="url(#bl)">Time of sampling</text><text x="17.4" y="53.5" font-size="7.0" textLength="43.9" lengthAdjust="spacingAndGlyphs" fill="#111" stroke="#111" stroke-width="0.16" filter="url(#bl)">color-coding for</text><text x="17.4" y="61.0" font-size="7.0" textLength="28.0" lengthAdjust="spacingAndGlyphs" fill="#111" stroke="#111" stroke-width="0.16" filter="url(#bl)">branches:</text><line x1="17.3" y1="68.1" x2="36.5" y2="68.1" stroke="#22cc22" stroke-width="2.1" stroke-linecap="round"/><text x="39.1" y="69.9" font-size="5.9" textLength="26.7" lengthAdjust="spacingAndGlyphs" fill="#000" stroke="#000" stroke-width="0.2" filter="url(#bl)">Before 2000</text><line x1="17.3" y1="73.7" x2="36.5" y2="73.7" stroke="#ffff00" stroke-width="2.1" stroke-linecap="round"/><text x="39.1" y="75.5" font-size="5.9" textLength="10.4" lengthAdjust="spacingAndGlyphs" fill="#000" stroke="#000" stroke-width="0.2" filter="url(#bl)">2000</text><line x1="17.3" y1="79.9" x2="36.5" y2="79.9" stroke="#ff0033" stroke-width="2.1" stroke-linecap="round"/><text x="39.1" y="81.7" font-size="5.9" textLength="23.7" lengthAdjust="spacingAndGlyphs" fill="#000" stroke="#000" stroke-width="0.2" filter="url(#bl)">2001-2002</text><line x1="17.3" y1="85.8" x2="36.5" y2="85.8" stroke="#ff00ff" stroke-width="2.1" stroke-linecap="round"/><text x="39.1" y="87.6" font-size="5.9" textLength="10.4" lengthAdjust="spacingAndGlyphs" fill="#000" stroke="#000" stroke-width="0.2" filter="url(#bl)">2003</text><line x1="17.3" y1="91.6" x2="36.5" y2="91.6" stroke="#1010a0" stroke-width="2.1" stroke-linecap="round"/><text x="39.1" y="93.4" font-size="5.9" textLength="23.7" lengthAdjust="spacingAndGlyphs" fill="#000" stroke="#000" stroke-width="0.2" filter="url(#bl)">2004-2006</text><circle cx="20.1" cy="113.9" r="2.7" fill="#f00010" stroke="#4a0008" stroke-width="0.7"/><text x="27.5" y="116.4" font-size="7.0" textLength="49.3" lengthAdjust="spacingAndGlyphs" fill="#111" stroke="#111" stroke-width="0.16" filter="url(#bl)">Nodes with aLRT</text><text x="27.5" y="123.4" font-size="7.0" textLength="45.1" lengthAdjust="spacingAndGlyphs" fill="#111" stroke="#111" stroke-width="0.16" filter="url(#bl)">support of more</text><text x="27.5" y="130.6" font-size="7.0" textLength="26.9" lengthAdjust="spacingAndGlyphs" fill="#111" stroke="#111" stroke-width="0.16" filter="url(#bl)">than 0.90</text><line x1="67.2" y1="544.3" x2="131.4" y2="544.3" stroke="#3a3a3a" stroke-width="1.2"/><text x="98.9" y="549.0" font-size="4.6" font-weight="bold" text-anchor="middle" fill="#111" stroke="#111" stroke-width="0.15">0.1</text></svg>
</body></html>
